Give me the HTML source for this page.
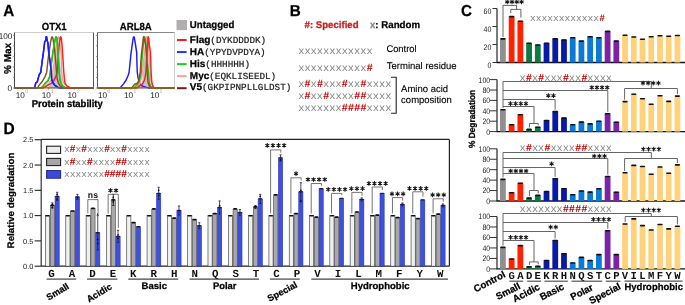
<!DOCTYPE html>
<html><head><meta charset="utf-8"><style>
html,body{margin:0;padding:0;background:#fff;overflow:hidden;}
svg{display:block;will-change:transform;} text{text-rendering:geometricPrecision;}
</style></head><body>
<svg width="685" height="305" viewBox="0 0 685 305">
<rect x="0" y="0" width="685" height="305" fill="#fff"/>
<text x="3.2" y="16" font-family="'Liberation Sans', sans-serif" font-size="16" font-weight="bold" fill="#000" text-anchor="start" textLength="11.0" lengthAdjust="spacingAndGlyphs" stroke="#000" stroke-width="0.25">A</text>
<text x="54.2" y="30.3" font-family="'Liberation Sans', sans-serif" font-size="10.3" font-weight="bold" fill="#000" text-anchor="middle" textLength="25.0" lengthAdjust="spacingAndGlyphs" stroke="#000" stroke-width="0.25">OTX1</text>
<text x="135.8" y="30.4" font-family="'Liberation Sans', sans-serif" font-size="10.3" font-weight="bold" fill="#000" text-anchor="middle" textLength="32.0" lengthAdjust="spacingAndGlyphs" stroke="#000" stroke-width="0.25">ARL8A</text>
<text transform="translate(11.1,58.4) rotate(-90)" font-family="'Liberation Sans', sans-serif" font-size="10" font-weight="bold" text-anchor="middle" stroke="#000" stroke-width="0.25">% Max</text>
<text x="12.3" y="38.5" font-family="'Liberation Sans', sans-serif" font-size="8.2" font-weight="normal" fill="#222" text-anchor="end" >100</text>
<text x="12.1" y="90.8" font-family="'Liberation Sans', sans-serif" font-size="8.2" font-weight="normal" fill="#222" text-anchor="end" >0</text>
<line x1="14.5" y1="32.5" x2="93.5" y2="32.5" stroke="#cccccc" stroke-width="1" />
<line x1="93.5" y1="32.5" x2="93.5" y2="88.0" stroke="#555" stroke-width="1" />
<line x1="14.5" y1="32.5" x2="14.5" y2="88.0" stroke="#444" stroke-width="1" />
<line x1="12.9" y1="88.0" x2="14.5" y2="88.0" stroke="#777" stroke-width="0.8" />
<line x1="13.6" y1="82.73" x2="14.5" y2="82.73" stroke="#aaa" stroke-width="0.6" />
<line x1="12.9" y1="77.46" x2="14.5" y2="77.46" stroke="#777" stroke-width="0.8" />
<line x1="13.6" y1="72.19" x2="14.5" y2="72.19" stroke="#aaa" stroke-width="0.6" />
<line x1="12.9" y1="66.92" x2="14.5" y2="66.92" stroke="#777" stroke-width="0.8" />
<line x1="13.6" y1="61.65" x2="14.5" y2="61.65" stroke="#aaa" stroke-width="0.6" />
<line x1="12.9" y1="56.379999999999995" x2="14.5" y2="56.379999999999995" stroke="#777" stroke-width="0.8" />
<line x1="13.6" y1="51.10999999999999" x2="14.5" y2="51.10999999999999" stroke="#aaa" stroke-width="0.6" />
<line x1="12.9" y1="45.839999999999996" x2="14.5" y2="45.839999999999996" stroke="#777" stroke-width="0.8" />
<line x1="13.6" y1="40.56999999999999" x2="14.5" y2="40.56999999999999" stroke="#aaa" stroke-width="0.6" />
<line x1="12.9" y1="35.3" x2="14.5" y2="35.3" stroke="#777" stroke-width="0.8" />
<line x1="97.5" y1="32.5" x2="174.5" y2="32.5" stroke="#888" stroke-width="1" />
<line x1="174.5" y1="32.5" x2="174.5" y2="88.0" stroke="#cfcfcf" stroke-width="1" />
<line x1="97.5" y1="32.5" x2="97.5" y2="88.0" stroke="#555" stroke-width="1" />
<line x1="95.9" y1="88.0" x2="97.5" y2="88.0" stroke="#777" stroke-width="0.8" />
<line x1="96.6" y1="82.73" x2="97.5" y2="82.73" stroke="#aaa" stroke-width="0.6" />
<line x1="95.9" y1="77.46" x2="97.5" y2="77.46" stroke="#777" stroke-width="0.8" />
<line x1="96.6" y1="72.19" x2="97.5" y2="72.19" stroke="#aaa" stroke-width="0.6" />
<line x1="95.9" y1="66.92" x2="97.5" y2="66.92" stroke="#777" stroke-width="0.8" />
<line x1="96.6" y1="61.65" x2="97.5" y2="61.65" stroke="#aaa" stroke-width="0.6" />
<line x1="95.9" y1="56.379999999999995" x2="97.5" y2="56.379999999999995" stroke="#777" stroke-width="0.8" />
<line x1="96.6" y1="51.10999999999999" x2="97.5" y2="51.10999999999999" stroke="#aaa" stroke-width="0.6" />
<line x1="95.9" y1="45.839999999999996" x2="97.5" y2="45.839999999999996" stroke="#777" stroke-width="0.8" />
<line x1="96.6" y1="40.56999999999999" x2="97.5" y2="40.56999999999999" stroke="#aaa" stroke-width="0.6" />
<line x1="95.9" y1="35.3" x2="97.5" y2="35.3" stroke="#777" stroke-width="0.8" />
<line x1="22.6" y1="88.0" x2="22.6" y2="89.6" stroke="#666" stroke-width="0.8" />
<text x="20.3" y="97.6" font-family="'Liberation Sans', sans-serif" font-size="8.2" font-weight="normal" fill="#222" text-anchor="middle" >10</text>
<text x="26.6" y="92.9" font-family="'Liberation Sans', sans-serif" font-size="5.0" font-weight="normal" fill="#999" text-anchor="middle" >0</text>
<line x1="48.5" y1="88.0" x2="48.5" y2="89.6" stroke="#666" stroke-width="0.8" />
<text x="46.2" y="97.6" font-family="'Liberation Sans', sans-serif" font-size="8.2" font-weight="normal" fill="#222" text-anchor="middle" >10</text>
<text x="52.5" y="92.9" font-family="'Liberation Sans', sans-serif" font-size="5.0" font-weight="normal" fill="#999" text-anchor="middle" >1</text>
<line x1="74.4" y1="88.0" x2="74.4" y2="89.6" stroke="#666" stroke-width="0.8" />
<text x="72.10000000000001" y="97.6" font-family="'Liberation Sans', sans-serif" font-size="8.2" font-weight="normal" fill="#222" text-anchor="middle" >10</text>
<text x="78.4" y="92.9" font-family="'Liberation Sans', sans-serif" font-size="5.0" font-weight="normal" fill="#999" text-anchor="middle" >2</text>
<line x1="104.8" y1="88.0" x2="104.8" y2="89.6" stroke="#666" stroke-width="0.8" />
<text x="102.5" y="97.6" font-family="'Liberation Sans', sans-serif" font-size="8.2" font-weight="normal" fill="#222" text-anchor="middle" >10</text>
<text x="108.8" y="92.9" font-family="'Liberation Sans', sans-serif" font-size="5.0" font-weight="normal" fill="#999" text-anchor="middle" >0</text>
<line x1="130.9" y1="88.0" x2="130.9" y2="89.6" stroke="#666" stroke-width="0.8" />
<text x="128.6" y="97.6" font-family="'Liberation Sans', sans-serif" font-size="8.2" font-weight="normal" fill="#222" text-anchor="middle" >10</text>
<text x="134.9" y="92.9" font-family="'Liberation Sans', sans-serif" font-size="5.0" font-weight="normal" fill="#999" text-anchor="middle" >1</text>
<line x1="157.0" y1="88.0" x2="157.0" y2="89.6" stroke="#666" stroke-width="0.8" />
<text x="154.7" y="97.6" font-family="'Liberation Sans', sans-serif" font-size="8.2" font-weight="normal" fill="#222" text-anchor="middle" >10</text>
<text x="161.0" y="92.9" font-family="'Liberation Sans', sans-serif" font-size="5.0" font-weight="normal" fill="#999" text-anchor="middle" >2</text>
<text x="31.7" y="106.6" font-family="'Liberation Sans', sans-serif" font-size="10" font-weight="bold" fill="#000" text-anchor="start" textLength="71" lengthAdjust="spacingAndGlyphs" stroke="#000" stroke-width="0.3">Protein stability</text>
<polygon points="47.00,88.00 47.00,88.00 50.00,86.03 52.00,83.08 53.50,78.15 54.50,65.35 55.50,50.58 56.50,40.74 57.20,38.77 58.00,40.74 59.00,50.58 60.00,65.35 61.00,78.15 62.50,84.06 65.00,87.02 68.00,88.00 68.00,88.00" fill="#c4c4c4" stroke="#aaa" stroke-width="0.6"/>
<polyline points="14.50,88.00 41.40,88.00 46.70,85.14 50.00,81.99 51.90,78.74 52.60,72.25 54.20,62.40 55.20,52.55 57.00,42.71 58.20,37.78 58.70,36.80 59.30,37.78 60.00,42.71 61.00,52.55 61.50,62.40 61.80,72.25 62.50,80.12 64.50,84.06 68.40,86.52 70.00,88.00 93.50,88.00" fill="none" stroke="#ff9a9a" stroke-width="1.45" stroke-linejoin="round" />
<polyline points="14.50,88.00 43.00,88.00 44.70,87.11 48.00,85.14 51.30,83.27 53.90,80.62 55.90,76.09 57.20,72.25 57.80,62.40 58.50,52.55 59.50,42.71 60.20,37.78 60.70,36.80 61.30,37.78 62.00,44.68 62.50,52.55 63.20,62.40 63.80,72.25 64.40,78.74 65.00,83.27 67.00,86.13 69.70,87.41 71.00,88.00 93.50,88.00" fill="none" stroke="#ff1f1f" stroke-width="1.45" stroke-linejoin="round" />
<polyline points="14.50,88.00 40.80,88.00 42.10,87.11 44.70,83.86 48.00,80.62 49.60,76.78 50.30,72.25 51.50,62.40 52.90,52.55 54.50,42.71 55.50,37.78 56.00,36.80 56.80,37.78 57.50,44.68 57.90,52.55 58.50,62.40 59.20,72.25 59.80,78.74 60.80,83.27 62.50,86.13 65.70,88.00 93.50,88.00" fill="none" stroke="#18c818" stroke-width="1.45" stroke-linejoin="round" />
<polyline points="14.50,88.00 34.20,87.80 34.90,86.52 35.80,82.88 37.20,81.99 38.10,78.74 39.10,74.81 40.80,72.25 42.00,62.40 43.40,52.55 44.70,41.72 45.70,40.34 46.00,37.98 46.20,36.80 46.60,36.80 46.80,37.98 47.10,40.34 47.90,42.71 48.70,52.55 50.20,62.40 51.30,72.25 51.60,78.74 52.60,81.99 54.60,85.14 57.90,87.41 61.80,88.00 93.50,88.00" fill="none" stroke="#1a1aff" stroke-width="1.45" stroke-linejoin="round" />
<polyline points="14.50,88.00 37.50,88.00 39.10,85.14 41.40,82.58 42.70,80.62 44.70,77.46 46.70,72.25 47.70,62.40 49.00,52.55 50.50,42.71 51.50,37.78 52.00,36.80 52.80,37.78 54.00,44.68 54.90,52.55 55.80,62.40 56.50,72.25 57.20,78.74 58.50,83.27 60.50,86.52 64.40,88.00 93.50,88.00" fill="none" stroke="#8f4e18" stroke-width="1.45" stroke-linejoin="round" />
<polyline points="40.80,88.00 42.10,87.11 44.70,83.86 48.00,80.62 49.60,76.78 50.30,72.25 51.50,62.40 52.90,52.55 54.50,42.71 55.50,37.78 56.00,36.80 56.80,37.78 57.50,44.68 57.90,52.55 58.50,62.40 59.20,72.25 59.80,78.74 60.80,83.27 62.50,86.13 65.70,88.00" fill="none" stroke="#18c818" stroke-width="1.45" stroke-linejoin="round" />
<polyline points="34.20,87.80 34.90,86.52 35.80,82.88 37.20,81.99 38.10,78.74 39.10,74.81 40.80,72.25 42.00,62.40 43.40,52.55 44.70,41.72 45.70,40.34 46.00,37.98 46.20,36.80 46.60,36.80 46.80,37.98 47.10,40.34 47.90,42.71 48.70,52.55 50.20,62.40 51.30,72.25 51.60,78.74 52.60,81.99 54.60,85.14 57.90,87.41 61.80,88.00" fill="none" stroke="#1a1aff" stroke-width="1.45" stroke-linejoin="round" />
<polygon points="139.00,88.00 139.00,88.00 141.50,85.05 143.00,79.14 144.30,65.35 145.30,48.62 146.00,39.75 146.60,38.77 147.30,42.71 148.00,55.51 148.60,70.28 149.30,80.12 150.50,86.03 152.50,88.00 152.50,88.00" fill="#c4c4c4" stroke="#aaa" stroke-width="0.6"/>
<polyline points="97.50,88.00 120.30,87.80 123.50,83.86 126.20,80.02 128.10,75.50 129.10,72.25 130.10,62.40 131.10,52.55 132.80,40.74 133.40,37.29 133.90,36.80 134.40,37.78 135.50,44.68 136.70,52.55 136.90,62.40 137.30,72.25 138.00,77.46 140.00,84.55 142.60,86.13 146.50,87.41 149.20,88.00 174.50,88.00" fill="none" stroke="#1a1aff" stroke-width="1.45" stroke-linejoin="round" />
<polyline points="97.50,88.00 135.50,88.00 136.70,87.11 139.30,84.55 141.30,78.74 142.60,72.25 143.50,62.40 144.50,52.55 145.80,42.71 146.50,37.78 146.90,36.80 147.40,37.78 148.20,44.68 149.00,52.55 149.60,62.40 150.20,72.25 150.80,80.12 151.60,84.06 152.60,87.02 154.00,88.00 174.50,88.00" fill="none" stroke="#ff9a9a" stroke-width="1.45" stroke-linejoin="round" />
<polyline points="97.50,88.00 137.00,88.00 138.00,87.11 140.60,85.14 142.60,83.86 144.60,80.02 145.90,72.25 146.50,62.40 147.20,52.55 147.80,42.71 148.00,37.78 148.20,36.80 148.60,37.78 149.30,44.68 150.50,52.55 150.80,62.40 151.10,72.25 151.80,81.99 152.80,85.83 153.80,87.80 155.00,88.00 174.50,88.00" fill="none" stroke="#ff1f1f" stroke-width="1.45" stroke-linejoin="round" />
<polyline points="97.50,88.00 133.50,88.00 134.70,87.11 138.00,83.86 140.00,78.74 141.30,72.25 141.80,62.40 142.60,52.55 143.60,42.71 144.30,37.78 144.60,36.80 145.00,37.78 146.00,44.68 146.60,52.55 147.20,62.40 148.50,72.25 149.20,81.99 150.50,86.52 151.80,87.80 153.00,88.00 174.50,88.00" fill="none" stroke="#18c818" stroke-width="1.45" stroke-linejoin="round" />
<polyline points="97.50,88.00 131.50,88.00 132.10,87.41 134.70,84.26 137.30,83.27 138.70,80.62 139.60,75.50 140.30,72.25 140.80,62.40 141.60,52.55 142.80,42.71 143.30,37.78 143.60,36.80 144.00,37.78 145.50,44.68 146.50,52.55 147.00,62.40 147.20,72.25 147.90,81.99 149.20,85.83 151.10,87.41 154.40,88.00 174.50,88.00" fill="none" stroke="#8f4e18" stroke-width="1.45" stroke-linejoin="round" />
<line x1="15.0" y1="87.9" x2="93.0" y2="87.9" stroke="#9e5c1e" stroke-width="1.4" />
<line x1="98.0" y1="87.9" x2="174.0" y2="87.9" stroke="#9e5c1e" stroke-width="1.4" />
<rect x="176.50" y="20.00" width="10.50" height="10.10" fill="#b1aeae" stroke="none" stroke-width="0" />
<text x="189.8" y="28.3" font-family="'Liberation Sans', sans-serif" font-size="10" font-weight="bold" fill="#000" text-anchor="start" textLength="44.5" lengthAdjust="spacingAndGlyphs" stroke="#000" stroke-width="0.25">Untagged</text>
<line x1="177.0" y1="40.0" x2="186.6" y2="40.0" stroke="#ff1a1a" stroke-width="2" />
<text x="189.8" y="42.65" font-family="'Liberation Sans', sans-serif" font-size="10" font-weight="bold" stroke="#000" stroke-width="0.25">Flag<tspan font-family="'Liberation Mono', monospace" font-weight="normal" font-size="9.3" fill="#1a1a1a" stroke="#1a1a1a" stroke-width="0.2">(DYKDDDDK)</tspan></text>
<line x1="177.0" y1="52.05" x2="186.6" y2="52.05" stroke="#1a3cff" stroke-width="2" />
<text x="189.8" y="54.599999999999994" font-family="'Liberation Sans', sans-serif" font-size="10" font-weight="bold" stroke="#000" stroke-width="0.25">HA<tspan font-family="'Liberation Mono', monospace" font-weight="normal" font-size="9.3" fill="#1a1a1a" stroke="#1a1a1a" stroke-width="0.2">(YPYDVPDYA)</tspan></text>
<line x1="177.0" y1="64.1" x2="186.6" y2="64.1" stroke="#22cc22" stroke-width="2" />
<text x="189.8" y="66.55" font-family="'Liberation Sans', sans-serif" font-size="10" font-weight="bold" stroke="#000" stroke-width="0.25">His<tspan font-family="'Liberation Mono', monospace" font-weight="normal" font-size="9.3" fill="#1a1a1a" stroke="#1a1a1a" stroke-width="0.2">(HHHHHH)</tspan></text>
<line x1="177.0" y1="76.15" x2="186.6" y2="76.15" stroke="#ff9d9d" stroke-width="2" />
<text x="189.8" y="78.5" font-family="'Liberation Sans', sans-serif" font-size="10" font-weight="bold" stroke="#000" stroke-width="0.25">Myc<tspan font-family="'Liberation Mono', monospace" font-weight="normal" font-size="9.3" fill="#1a1a1a" stroke="#1a1a1a" stroke-width="0.2">(EQKLISEEDL)</tspan></text>
<line x1="177.0" y1="88.2" x2="186.6" y2="88.2" stroke="#8b1212" stroke-width="2" />
<text x="189.8" y="90.44999999999999" font-family="'Liberation Sans', sans-serif" font-size="10" font-weight="bold" stroke="#000" stroke-width="0.25">V5<tspan font-family="'Liberation Mono', monospace" font-weight="normal" font-size="9.3" fill="#1a1a1a" stroke="#1a1a1a" stroke-width="0.2">(GKPIPNPLLGLDST)</tspan></text>
<text x="289.8" y="15.6" font-family="'Liberation Sans', sans-serif" font-size="15.8" font-weight="bold" fill="#000" text-anchor="start" textLength="11.0" lengthAdjust="spacingAndGlyphs" stroke="#000" stroke-width="0.25">B</text>
<text x="304.6" y="27.7" font-family="'Liberation Sans', sans-serif" font-size="9.8" font-weight="bold" fill="#cc1a1a" text-anchor="start" textLength="54" lengthAdjust="spacingAndGlyphs" stroke="#cc1a1a" stroke-width="0.25">#: Specified</text>
<text x="369.9" y="27.8" font-family="'Liberation Sans', sans-serif" font-size="9.8" font-weight="bold" textLength="50.2" lengthAdjust="spacingAndGlyphs" stroke="#000" stroke-width="0.25"><tspan fill="#888" stroke="#888">x</tspan>: Random</text>
<text x="301.31 307.51 313.72 319.94 326.14 332.36 338.56 344.77 350.99 357.19 363.40 369.62" y="54.2" font-family="'Liberation Mono', monospace" font-size="10.4" fill="#808080" text-anchor="middle">xxxxxxxxxxxx</text>
<text x="301.31 307.51 313.72 319.94 326.14 332.36 338.56 344.77 350.99 357.19 363.40" y="70.5" font-family="'Liberation Mono', monospace" font-size="10.4" fill="#808080" text-anchor="middle">xxxxxxxxxxx</text>
<text x="369.62" y="70.5" font-family="'Liberation Sans', sans-serif" font-weight="bold" font-size="10.6" fill="#c40000" text-anchor="middle">#</text>
<text x="301.31 313.72 326.14 332.36 338.56 350.99 357.19 369.62 375.82 382.03 388.25" y="87.2" font-family="'Liberation Mono', monospace" font-size="10.4" fill="#808080" text-anchor="middle">xxxxxxxxxxx</text>
<text x="307.51 319.94 344.77 363.40" y="87.2" font-family="'Liberation Sans', sans-serif" font-weight="bold" font-size="10.6" fill="#c40000" text-anchor="middle">####</text>
<text x="301.31 313.72 319.94 332.36 338.56 344.77 350.99 369.62 375.82 382.03 388.25" y="99.2" font-family="'Liberation Mono', monospace" font-size="10.4" fill="#808080" text-anchor="middle">xxxxxxxxxxx</text>
<text x="307.51 326.14 357.19 363.40" y="99.2" font-family="'Liberation Sans', sans-serif" font-weight="bold" font-size="10.6" fill="#c40000" text-anchor="middle">####</text>
<text x="301.31 307.51 313.72 319.94 326.14 332.36 338.56 369.62 375.82 382.03 388.25" y="111.3" font-family="'Liberation Mono', monospace" font-size="10.4" fill="#808080" text-anchor="middle">xxxxxxxxxxx</text>
<text x="344.77 350.99 357.19 363.40" y="111.3" font-family="'Liberation Sans', sans-serif" font-weight="bold" font-size="10.6" fill="#c40000" text-anchor="middle">####</text>
<text x="386.4" y="52.1" font-family="'Liberation Sans', sans-serif" font-size="9.7" font-weight="normal" fill="#000" text-anchor="start" textLength="30.2" lengthAdjust="spacingAndGlyphs" stroke="#000" stroke-width="0.12">Control</text>
<text x="386.7" y="68.9" font-family="'Liberation Sans', sans-serif" font-size="9.7" font-weight="normal" fill="#000" text-anchor="start" textLength="70" lengthAdjust="spacingAndGlyphs" stroke="#000" stroke-width="0.12">Terminal residue</text>
<text x="401.1" y="91.8" font-family="'Liberation Sans', sans-serif" font-size="9.7" font-weight="normal" fill="#000" text-anchor="start" textLength="47" lengthAdjust="spacingAndGlyphs" stroke="#000" stroke-width="0.12">Amino acid</text>
<text x="401.1" y="103.0" font-family="'Liberation Sans', sans-serif" font-size="9.7" font-weight="normal" fill="#000" text-anchor="start" textLength="50.7" lengthAdjust="spacingAndGlyphs" stroke="#000" stroke-width="0.12">composition</text>
<path d="M391,77.2 H396.2 V113.3 H391" fill="none" stroke="#222" stroke-width="1.1" />
<text x="460.9" y="15.8" font-family="'Liberation Sans', sans-serif" font-size="15.8" font-weight="bold" fill="#000" text-anchor="start" textLength="11.0" lengthAdjust="spacingAndGlyphs" stroke="#000" stroke-width="0.25">C</text>
<line x1="497.0" y1="8.5" x2="497.0" y2="62.5" stroke="#222" stroke-width="1.2" />
<line x1="496.5" y1="62.5" x2="685" y2="62.5" stroke="#111" stroke-width="1.4" />
<line x1="492.5" y1="62.5" x2="497.0" y2="62.5" stroke="#333" stroke-width="1" />
<text x="491.3" y="67.60000000000001" font-family="'Liberation Sans', sans-serif" font-size="8.0" font-weight="normal" fill="#222" text-anchor="end" textLength="3.9" lengthAdjust="spacingAndGlyphs">0</text>
<line x1="492.5" y1="44.5" x2="497.0" y2="44.5" stroke="#333" stroke-width="1" />
<text x="491.3" y="49.6" font-family="'Liberation Sans', sans-serif" font-size="8.0" font-weight="normal" fill="#222" text-anchor="end" textLength="7.8" lengthAdjust="spacingAndGlyphs">20</text>
<line x1="492.5" y1="26.5" x2="497.0" y2="26.5" stroke="#333" stroke-width="1" />
<text x="491.3" y="31.599999999999998" font-family="'Liberation Sans', sans-serif" font-size="8.0" font-weight="normal" fill="#222" text-anchor="end" textLength="7.8" lengthAdjust="spacingAndGlyphs">40</text>
<line x1="492.5" y1="8.5" x2="497.0" y2="8.5" stroke="#333" stroke-width="1" />
<text x="491.3" y="13.600000000000001" font-family="'Liberation Sans', sans-serif" font-size="8.0" font-weight="normal" fill="#222" text-anchor="end" textLength="7.8" lengthAdjust="spacingAndGlyphs">60</text>
<rect x="500.00" y="38.50" width="5.80" height="24.00" fill="#8f8f8f" stroke="none" stroke-width="0" />
<rect x="500.30" y="38.10" width="5.20" height="1.60" fill="#111" stroke="none" stroke-width="0" rx="0.8"/>
<rect x="508.73" y="16.20" width="5.80" height="46.30" fill="#ff2200" stroke="none" stroke-width="0" />
<rect x="509.03" y="15.80" width="5.20" height="1.60" fill="#111" stroke="none" stroke-width="0" rx="0.8"/>
<rect x="517.45" y="20.80" width="5.80" height="41.70" fill="#ff2200" stroke="none" stroke-width="0" />
<rect x="517.75" y="20.40" width="5.20" height="1.60" fill="#111" stroke="none" stroke-width="0" rx="0.8"/>
<rect x="526.17" y="42.90" width="5.80" height="19.60" fill="#0e7a40" stroke="none" stroke-width="0" />
<rect x="526.47" y="42.50" width="5.20" height="1.60" fill="#111" stroke="none" stroke-width="0" rx="0.8"/>
<rect x="534.90" y="44.60" width="5.80" height="17.90" fill="#0e7a40" stroke="none" stroke-width="0" />
<rect x="535.20" y="44.20" width="5.20" height="1.60" fill="#111" stroke="none" stroke-width="0" rx="0.8"/>
<rect x="543.62" y="42.90" width="5.80" height="19.60" fill="#0a1aa8" stroke="none" stroke-width="0" />
<rect x="543.92" y="42.50" width="5.20" height="1.60" fill="#111" stroke="none" stroke-width="0" rx="0.8"/>
<rect x="552.35" y="38.50" width="5.80" height="24.00" fill="#0a1aa8" stroke="none" stroke-width="0" />
<rect x="552.65" y="38.10" width="5.20" height="1.60" fill="#111" stroke="none" stroke-width="0" rx="0.8"/>
<rect x="561.08" y="39.60" width="5.80" height="22.90" fill="#0a1aa8" stroke="none" stroke-width="0" />
<rect x="561.38" y="39.20" width="5.20" height="1.60" fill="#111" stroke="none" stroke-width="0" rx="0.8"/>
<rect x="569.80" y="37.40" width="5.80" height="25.10" fill="#0a7ad6" stroke="none" stroke-width="0" />
<rect x="570.10" y="37.00" width="5.20" height="1.60" fill="#111" stroke="none" stroke-width="0" rx="0.8"/>
<rect x="578.52" y="40.70" width="5.80" height="21.80" fill="#0a7ad6" stroke="none" stroke-width="0" />
<rect x="578.82" y="40.30" width="5.20" height="1.60" fill="#111" stroke="none" stroke-width="0" rx="0.8"/>
<rect x="587.25" y="36.30" width="5.80" height="26.20" fill="#0a7ad6" stroke="none" stroke-width="0" />
<rect x="587.55" y="35.90" width="5.20" height="1.60" fill="#111" stroke="none" stroke-width="0" rx="0.8"/>
<rect x="595.98" y="37.30" width="5.80" height="25.20" fill="#0a7ad6" stroke="none" stroke-width="0" />
<rect x="596.27" y="36.90" width="5.20" height="1.60" fill="#111" stroke="none" stroke-width="0" rx="0.8"/>
<rect x="604.70" y="31.00" width="5.80" height="31.50" fill="#7a22a8" stroke="none" stroke-width="0" />
<rect x="605.00" y="30.60" width="5.20" height="1.60" fill="#111" stroke="none" stroke-width="0" rx="0.8"/>
<rect x="613.42" y="40.70" width="5.80" height="21.80" fill="#7a22a8" stroke="none" stroke-width="0" />
<rect x="613.72" y="40.30" width="5.20" height="1.60" fill="#111" stroke="none" stroke-width="0" rx="0.8"/>
<rect x="622.15" y="34.80" width="5.80" height="27.70" fill="#ffd27a" stroke="none" stroke-width="0" />
<rect x="622.45" y="34.40" width="5.20" height="1.60" fill="#111" stroke="none" stroke-width="0" rx="0.8"/>
<rect x="630.88" y="36.60" width="5.80" height="25.90" fill="#ffd27a" stroke="none" stroke-width="0" />
<rect x="631.17" y="36.20" width="5.20" height="1.60" fill="#111" stroke="none" stroke-width="0" rx="0.8"/>
<rect x="639.60" y="38.90" width="5.80" height="23.60" fill="#ffd27a" stroke="none" stroke-width="0" />
<rect x="639.90" y="38.50" width="5.20" height="1.60" fill="#111" stroke="none" stroke-width="0" rx="0.8"/>
<rect x="648.33" y="36.30" width="5.80" height="26.20" fill="#ffd27a" stroke="none" stroke-width="0" />
<rect x="648.62" y="35.90" width="5.20" height="1.60" fill="#111" stroke="none" stroke-width="0" rx="0.8"/>
<rect x="657.05" y="35.40" width="5.80" height="27.10" fill="#ffd27a" stroke="none" stroke-width="0" />
<rect x="657.35" y="35.00" width="5.20" height="1.60" fill="#111" stroke="none" stroke-width="0" rx="0.8"/>
<rect x="665.77" y="35.80" width="5.80" height="26.70" fill="#ffd27a" stroke="none" stroke-width="0" />
<rect x="666.07" y="35.40" width="5.20" height="1.60" fill="#111" stroke="none" stroke-width="0" rx="0.8"/>
<rect x="674.50" y="35.10" width="5.80" height="27.40" fill="#ffd27a" stroke="none" stroke-width="0" />
<rect x="674.80" y="34.70" width="5.20" height="1.60" fill="#111" stroke="none" stroke-width="0" rx="0.8"/>
<line x1="497.0" y1="79.6" x2="497.0" y2="131.6" stroke="#222" stroke-width="1.2" />
<line x1="496.5" y1="131.6" x2="685" y2="131.6" stroke="#111" stroke-width="1.4" />
<line x1="490.0" y1="131.6" x2="497.0" y2="131.6" stroke="#333" stroke-width="1" />
<text x="490.2" y="134.5" font-family="'Liberation Sans', sans-serif" font-size="8.0" font-weight="normal" fill="#222" text-anchor="end" textLength="3.9" lengthAdjust="spacingAndGlyphs">0</text>
<line x1="490.0" y1="121.19999999999999" x2="497.0" y2="121.19999999999999" stroke="#333" stroke-width="1" />
<text x="490.2" y="124.1" font-family="'Liberation Sans', sans-serif" font-size="8.0" font-weight="normal" fill="#222" text-anchor="end" textLength="7.8" lengthAdjust="spacingAndGlyphs">20</text>
<line x1="490.0" y1="110.8" x2="497.0" y2="110.8" stroke="#333" stroke-width="1" />
<text x="490.2" y="113.7" font-family="'Liberation Sans', sans-serif" font-size="8.0" font-weight="normal" fill="#222" text-anchor="end" textLength="7.8" lengthAdjust="spacingAndGlyphs">40</text>
<line x1="490.0" y1="100.39999999999999" x2="497.0" y2="100.39999999999999" stroke="#333" stroke-width="1" />
<text x="490.2" y="103.3" font-family="'Liberation Sans', sans-serif" font-size="8.0" font-weight="normal" fill="#222" text-anchor="end" textLength="7.8" lengthAdjust="spacingAndGlyphs">60</text>
<line x1="490.0" y1="90.0" x2="497.0" y2="90.0" stroke="#333" stroke-width="1" />
<text x="490.2" y="92.9" font-family="'Liberation Sans', sans-serif" font-size="8.0" font-weight="normal" fill="#222" text-anchor="end" textLength="7.8" lengthAdjust="spacingAndGlyphs">80</text>
<line x1="490.0" y1="79.6" x2="497.0" y2="79.6" stroke="#333" stroke-width="1" />
<text x="490.2" y="82.5" font-family="'Liberation Sans', sans-serif" font-size="8.0" font-weight="normal" fill="#222" text-anchor="end" textLength="11.7" lengthAdjust="spacingAndGlyphs">100</text>
<rect x="500.00" y="109.40" width="5.80" height="22.20" fill="#8f8f8f" stroke="none" stroke-width="0" />
<rect x="500.30" y="109.00" width="5.20" height="1.60" fill="#111" stroke="none" stroke-width="0" rx="0.8"/>
<rect x="508.73" y="124.40" width="5.80" height="7.20" fill="#ff2200" stroke="none" stroke-width="0" />
<rect x="509.03" y="124.00" width="5.20" height="1.60" fill="#111" stroke="none" stroke-width="0" rx="0.8"/>
<rect x="517.45" y="114.30" width="5.80" height="17.30" fill="#ff2200" stroke="none" stroke-width="0" />
<rect x="517.75" y="113.90" width="5.20" height="1.60" fill="#111" stroke="none" stroke-width="0" rx="0.8"/>
<rect x="526.17" y="129.00" width="5.80" height="2.60" fill="#0e7a40" stroke="none" stroke-width="0" />
<rect x="526.47" y="128.60" width="5.20" height="1.60" fill="#111" stroke="none" stroke-width="0" rx="0.8"/>
<rect x="534.90" y="126.80" width="5.80" height="4.80" fill="#0e7a40" stroke="none" stroke-width="0" />
<rect x="535.20" y="126.40" width="5.20" height="1.60" fill="#111" stroke="none" stroke-width="0" rx="0.8"/>
<rect x="543.62" y="120.10" width="5.80" height="11.50" fill="#0a1aa8" stroke="none" stroke-width="0" />
<rect x="543.92" y="119.70" width="5.20" height="1.60" fill="#111" stroke="none" stroke-width="0" rx="0.8"/>
<rect x="552.35" y="111.20" width="5.80" height="20.40" fill="#0a1aa8" stroke="none" stroke-width="0" />
<rect x="552.65" y="110.80" width="5.20" height="1.60" fill="#111" stroke="none" stroke-width="0" rx="0.8"/>
<rect x="561.08" y="117.70" width="5.80" height="13.90" fill="#0a1aa8" stroke="none" stroke-width="0" />
<rect x="561.38" y="117.30" width="5.20" height="1.60" fill="#111" stroke="none" stroke-width="0" rx="0.8"/>
<rect x="569.80" y="124.40" width="5.80" height="7.20" fill="#0a7ad6" stroke="none" stroke-width="0" />
<rect x="570.10" y="124.00" width="5.20" height="1.60" fill="#111" stroke="none" stroke-width="0" rx="0.8"/>
<rect x="578.52" y="121.70" width="5.80" height="9.90" fill="#0a7ad6" stroke="none" stroke-width="0" />
<rect x="578.82" y="121.30" width="5.20" height="1.60" fill="#111" stroke="none" stroke-width="0" rx="0.8"/>
<rect x="587.25" y="123.50" width="5.80" height="8.10" fill="#0a7ad6" stroke="none" stroke-width="0" />
<rect x="587.55" y="123.10" width="5.20" height="1.60" fill="#111" stroke="none" stroke-width="0" rx="0.8"/>
<rect x="595.98" y="120.80" width="5.80" height="10.80" fill="#0a7ad6" stroke="none" stroke-width="0" />
<rect x="596.27" y="120.40" width="5.20" height="1.60" fill="#111" stroke="none" stroke-width="0" rx="0.8"/>
<rect x="604.70" y="113.30" width="5.80" height="18.30" fill="#7a22a8" stroke="none" stroke-width="0" />
<rect x="605.00" y="112.90" width="5.20" height="1.60" fill="#111" stroke="none" stroke-width="0" rx="0.8"/>
<rect x="613.42" y="121.80" width="5.80" height="9.80" fill="#7a22a8" stroke="none" stroke-width="0" />
<rect x="613.72" y="121.40" width="5.20" height="1.60" fill="#111" stroke="none" stroke-width="0" rx="0.8"/>
<rect x="622.15" y="101.20" width="5.80" height="30.40" fill="#ffd27a" stroke="none" stroke-width="0" />
<rect x="622.45" y="100.80" width="5.20" height="1.60" fill="#111" stroke="none" stroke-width="0" rx="0.8"/>
<rect x="630.88" y="93.90" width="5.80" height="37.70" fill="#ffd27a" stroke="none" stroke-width="0" />
<rect x="631.17" y="93.50" width="5.20" height="1.60" fill="#111" stroke="none" stroke-width="0" rx="0.8"/>
<rect x="639.60" y="98.30" width="5.80" height="33.30" fill="#ffd27a" stroke="none" stroke-width="0" />
<rect x="639.90" y="97.90" width="5.20" height="1.60" fill="#111" stroke="none" stroke-width="0" rx="0.8"/>
<rect x="648.33" y="103.90" width="5.80" height="27.70" fill="#ffd27a" stroke="none" stroke-width="0" />
<rect x="648.62" y="103.50" width="5.20" height="1.60" fill="#111" stroke="none" stroke-width="0" rx="0.8"/>
<rect x="657.05" y="95.40" width="5.80" height="36.20" fill="#ffd27a" stroke="none" stroke-width="0" />
<rect x="657.35" y="95.00" width="5.20" height="1.60" fill="#111" stroke="none" stroke-width="0" rx="0.8"/>
<rect x="665.77" y="101.00" width="5.80" height="30.60" fill="#ffd27a" stroke="none" stroke-width="0" />
<rect x="666.07" y="100.60" width="5.20" height="1.60" fill="#111" stroke="none" stroke-width="0" rx="0.8"/>
<rect x="674.50" y="95.70" width="5.80" height="35.90" fill="#ffd27a" stroke="none" stroke-width="0" />
<rect x="674.80" y="95.30" width="5.20" height="1.60" fill="#111" stroke="none" stroke-width="0" rx="0.8"/>
<line x1="497.0" y1="148.8" x2="497.0" y2="201.0" stroke="#222" stroke-width="1.2" />
<line x1="496.5" y1="201.0" x2="685" y2="201.0" stroke="#111" stroke-width="1.4" />
<line x1="490.0" y1="201.0" x2="497.0" y2="201.0" stroke="#333" stroke-width="1" />
<text x="490.2" y="203.9" font-family="'Liberation Sans', sans-serif" font-size="8.0" font-weight="normal" fill="#222" text-anchor="end" textLength="3.9" lengthAdjust="spacingAndGlyphs">0</text>
<line x1="490.0" y1="190.56" x2="497.0" y2="190.56" stroke="#333" stroke-width="1" />
<text x="490.2" y="193.46" font-family="'Liberation Sans', sans-serif" font-size="8.0" font-weight="normal" fill="#222" text-anchor="end" textLength="7.8" lengthAdjust="spacingAndGlyphs">20</text>
<line x1="490.0" y1="180.12" x2="497.0" y2="180.12" stroke="#333" stroke-width="1" />
<text x="490.2" y="183.02" font-family="'Liberation Sans', sans-serif" font-size="8.0" font-weight="normal" fill="#222" text-anchor="end" textLength="7.8" lengthAdjust="spacingAndGlyphs">40</text>
<line x1="490.0" y1="169.68" x2="497.0" y2="169.68" stroke="#333" stroke-width="1" />
<text x="490.2" y="172.58" font-family="'Liberation Sans', sans-serif" font-size="8.0" font-weight="normal" fill="#222" text-anchor="end" textLength="7.8" lengthAdjust="spacingAndGlyphs">60</text>
<line x1="490.0" y1="159.24" x2="497.0" y2="159.24" stroke="#333" stroke-width="1" />
<text x="490.2" y="162.14000000000001" font-family="'Liberation Sans', sans-serif" font-size="8.0" font-weight="normal" fill="#222" text-anchor="end" textLength="7.8" lengthAdjust="spacingAndGlyphs">80</text>
<line x1="490.0" y1="148.8" x2="497.0" y2="148.8" stroke="#333" stroke-width="1" />
<text x="490.2" y="151.70000000000002" font-family="'Liberation Sans', sans-serif" font-size="8.0" font-weight="normal" fill="#222" text-anchor="end" textLength="11.7" lengthAdjust="spacingAndGlyphs">100</text>
<rect x="500.00" y="179.00" width="5.80" height="22.00" fill="#8f8f8f" stroke="none" stroke-width="0" />
<rect x="500.30" y="178.60" width="5.20" height="1.60" fill="#111" stroke="none" stroke-width="0" rx="0.8"/>
<rect x="508.73" y="192.30" width="5.80" height="8.70" fill="#ff2200" stroke="none" stroke-width="0" />
<rect x="509.03" y="191.90" width="5.20" height="1.60" fill="#111" stroke="none" stroke-width="0" rx="0.8"/>
<rect x="517.45" y="182.80" width="5.80" height="18.20" fill="#ff2200" stroke="none" stroke-width="0" />
<rect x="517.75" y="182.40" width="5.20" height="1.60" fill="#111" stroke="none" stroke-width="0" rx="0.8"/>
<rect x="526.17" y="197.70" width="5.80" height="3.30" fill="#0e7a40" stroke="none" stroke-width="0" />
<rect x="526.47" y="197.30" width="5.20" height="1.60" fill="#111" stroke="none" stroke-width="0" rx="0.8"/>
<rect x="534.90" y="195.00" width="5.80" height="6.00" fill="#0e7a40" stroke="none" stroke-width="0" />
<rect x="535.20" y="194.60" width="5.20" height="1.60" fill="#111" stroke="none" stroke-width="0" rx="0.8"/>
<rect x="543.62" y="191.20" width="5.80" height="9.80" fill="#0a1aa8" stroke="none" stroke-width="0" />
<rect x="543.92" y="190.80" width="5.20" height="1.60" fill="#111" stroke="none" stroke-width="0" rx="0.8"/>
<rect x="552.35" y="178.30" width="5.80" height="22.70" fill="#0a1aa8" stroke="none" stroke-width="0" />
<rect x="552.65" y="177.90" width="5.20" height="1.60" fill="#111" stroke="none" stroke-width="0" rx="0.8"/>
<rect x="561.08" y="188.30" width="5.80" height="12.70" fill="#0a1aa8" stroke="none" stroke-width="0" />
<rect x="561.38" y="187.90" width="5.20" height="1.60" fill="#111" stroke="none" stroke-width="0" rx="0.8"/>
<rect x="569.80" y="194.40" width="5.80" height="6.60" fill="#0a7ad6" stroke="none" stroke-width="0" />
<rect x="570.10" y="194.00" width="5.20" height="1.60" fill="#111" stroke="none" stroke-width="0" rx="0.8"/>
<rect x="578.52" y="190.60" width="5.80" height="10.40" fill="#0a7ad6" stroke="none" stroke-width="0" />
<rect x="578.82" y="190.20" width="5.20" height="1.60" fill="#111" stroke="none" stroke-width="0" rx="0.8"/>
<rect x="587.25" y="191.70" width="5.80" height="9.30" fill="#0a7ad6" stroke="none" stroke-width="0" />
<rect x="587.55" y="191.30" width="5.20" height="1.60" fill="#111" stroke="none" stroke-width="0" rx="0.8"/>
<rect x="595.98" y="188.40" width="5.80" height="12.60" fill="#0a7ad6" stroke="none" stroke-width="0" />
<rect x="596.27" y="188.00" width="5.20" height="1.60" fill="#111" stroke="none" stroke-width="0" rx="0.8"/>
<rect x="604.70" y="176.10" width="5.80" height="24.90" fill="#7a22a8" stroke="none" stroke-width="0" />
<rect x="605.00" y="175.70" width="5.20" height="1.60" fill="#111" stroke="none" stroke-width="0" rx="0.8"/>
<rect x="613.42" y="191.80" width="5.80" height="9.20" fill="#7a22a8" stroke="none" stroke-width="0" />
<rect x="613.72" y="191.40" width="5.20" height="1.60" fill="#111" stroke="none" stroke-width="0" rx="0.8"/>
<rect x="622.15" y="172.40" width="5.80" height="28.60" fill="#ffd27a" stroke="none" stroke-width="0" />
<rect x="622.45" y="172.00" width="5.20" height="1.60" fill="#111" stroke="none" stroke-width="0" rx="0.8"/>
<rect x="630.88" y="165.00" width="5.80" height="36.00" fill="#ffd27a" stroke="none" stroke-width="0" />
<rect x="631.17" y="164.60" width="5.20" height="1.60" fill="#111" stroke="none" stroke-width="0" rx="0.8"/>
<rect x="639.60" y="166.10" width="5.80" height="34.90" fill="#ffd27a" stroke="none" stroke-width="0" />
<rect x="639.90" y="165.70" width="5.20" height="1.60" fill="#111" stroke="none" stroke-width="0" rx="0.8"/>
<rect x="648.33" y="173.90" width="5.80" height="27.10" fill="#ffd27a" stroke="none" stroke-width="0" />
<rect x="648.62" y="173.50" width="5.20" height="1.60" fill="#111" stroke="none" stroke-width="0" rx="0.8"/>
<rect x="657.05" y="166.60" width="5.80" height="34.40" fill="#ffd27a" stroke="none" stroke-width="0" />
<rect x="657.35" y="166.20" width="5.20" height="1.60" fill="#111" stroke="none" stroke-width="0" rx="0.8"/>
<rect x="665.77" y="172.80" width="5.80" height="28.20" fill="#ffd27a" stroke="none" stroke-width="0" />
<rect x="666.07" y="172.40" width="5.20" height="1.60" fill="#111" stroke="none" stroke-width="0" rx="0.8"/>
<rect x="674.50" y="164.50" width="5.80" height="36.50" fill="#ffd27a" stroke="none" stroke-width="0" />
<rect x="674.80" y="164.10" width="5.20" height="1.60" fill="#111" stroke="none" stroke-width="0" rx="0.8"/>
<line x1="497.0" y1="216.5" x2="497.0" y2="268.9" stroke="#222" stroke-width="1.2" />
<line x1="496.5" y1="268.9" x2="685" y2="268.9" stroke="#111" stroke-width="1.4" />
<line x1="490.0" y1="268.9" x2="497.0" y2="268.9" stroke="#333" stroke-width="1" />
<text x="490.2" y="271.79999999999995" font-family="'Liberation Sans', sans-serif" font-size="8.0" font-weight="normal" fill="#222" text-anchor="end" textLength="3.9" lengthAdjust="spacingAndGlyphs">0</text>
<line x1="490.0" y1="258.41999999999996" x2="497.0" y2="258.41999999999996" stroke="#333" stroke-width="1" />
<text x="490.2" y="261.31999999999994" font-family="'Liberation Sans', sans-serif" font-size="8.0" font-weight="normal" fill="#222" text-anchor="end" textLength="7.8" lengthAdjust="spacingAndGlyphs">20</text>
<line x1="490.0" y1="247.94" x2="497.0" y2="247.94" stroke="#333" stroke-width="1" />
<text x="490.2" y="250.84" font-family="'Liberation Sans', sans-serif" font-size="8.0" font-weight="normal" fill="#222" text-anchor="end" textLength="7.8" lengthAdjust="spacingAndGlyphs">40</text>
<line x1="490.0" y1="237.45999999999998" x2="497.0" y2="237.45999999999998" stroke="#333" stroke-width="1" />
<text x="490.2" y="240.35999999999999" font-family="'Liberation Sans', sans-serif" font-size="8.0" font-weight="normal" fill="#222" text-anchor="end" textLength="7.8" lengthAdjust="spacingAndGlyphs">60</text>
<line x1="490.0" y1="226.98" x2="497.0" y2="226.98" stroke="#333" stroke-width="1" />
<text x="490.2" y="229.88" font-family="'Liberation Sans', sans-serif" font-size="8.0" font-weight="normal" fill="#222" text-anchor="end" textLength="7.8" lengthAdjust="spacingAndGlyphs">80</text>
<line x1="490.0" y1="216.5" x2="497.0" y2="216.5" stroke="#333" stroke-width="1" />
<text x="490.2" y="219.4" font-family="'Liberation Sans', sans-serif" font-size="8.0" font-weight="normal" fill="#222" text-anchor="end" textLength="11.7" lengthAdjust="spacingAndGlyphs">100</text>
<rect x="500.00" y="247.00" width="5.80" height="21.90" fill="#8f8f8f" stroke="none" stroke-width="0" />
<rect x="500.30" y="246.60" width="5.20" height="1.60" fill="#111" stroke="none" stroke-width="0" rx="0.8"/>
<rect x="508.73" y="258.60" width="5.80" height="10.30" fill="#ff2200" stroke="none" stroke-width="0" />
<rect x="509.03" y="258.20" width="5.20" height="1.60" fill="#111" stroke="none" stroke-width="0" rx="0.8"/>
<rect x="517.45" y="245.20" width="5.80" height="23.70" fill="#ff2200" stroke="none" stroke-width="0" />
<rect x="517.75" y="244.80" width="5.20" height="1.60" fill="#111" stroke="none" stroke-width="0" rx="0.8"/>
<rect x="526.17" y="266.40" width="5.80" height="2.50" fill="#0e7a40" stroke="none" stroke-width="0" />
<rect x="526.47" y="266.00" width="5.20" height="1.60" fill="#111" stroke="none" stroke-width="0" rx="0.8"/>
<rect x="534.90" y="265.90" width="5.80" height="3.00" fill="#0e7a40" stroke="none" stroke-width="0" />
<rect x="535.20" y="265.50" width="5.20" height="1.60" fill="#111" stroke="none" stroke-width="0" rx="0.8"/>
<rect x="543.62" y="260.10" width="5.80" height="8.80" fill="#0a1aa8" stroke="none" stroke-width="0" />
<rect x="543.92" y="259.70" width="5.20" height="1.60" fill="#111" stroke="none" stroke-width="0" rx="0.8"/>
<rect x="552.35" y="240.10" width="5.80" height="28.80" fill="#0a1aa8" stroke="none" stroke-width="0" />
<rect x="552.65" y="239.70" width="5.20" height="1.60" fill="#111" stroke="none" stroke-width="0" rx="0.8"/>
<rect x="561.08" y="253.40" width="5.80" height="15.50" fill="#0a1aa8" stroke="none" stroke-width="0" />
<rect x="561.38" y="253.00" width="5.20" height="1.60" fill="#111" stroke="none" stroke-width="0" rx="0.8"/>
<rect x="569.80" y="262.60" width="5.80" height="6.30" fill="#0a7ad6" stroke="none" stroke-width="0" />
<rect x="570.10" y="262.20" width="5.20" height="1.60" fill="#111" stroke="none" stroke-width="0" rx="0.8"/>
<rect x="578.52" y="257.00" width="5.80" height="11.90" fill="#0a7ad6" stroke="none" stroke-width="0" />
<rect x="578.82" y="256.60" width="5.20" height="1.60" fill="#111" stroke="none" stroke-width="0" rx="0.8"/>
<rect x="587.25" y="260.10" width="5.80" height="8.80" fill="#0a7ad6" stroke="none" stroke-width="0" />
<rect x="587.55" y="259.70" width="5.20" height="1.60" fill="#111" stroke="none" stroke-width="0" rx="0.8"/>
<rect x="595.98" y="254.20" width="5.80" height="14.70" fill="#0a7ad6" stroke="none" stroke-width="0" />
<rect x="596.27" y="253.80" width="5.20" height="1.60" fill="#111" stroke="none" stroke-width="0" rx="0.8"/>
<rect x="604.70" y="230.30" width="5.80" height="38.60" fill="#7a22a8" stroke="none" stroke-width="0" />
<rect x="605.00" y="229.90" width="5.20" height="1.60" fill="#111" stroke="none" stroke-width="0" rx="0.8"/>
<rect x="613.42" y="254.20" width="5.80" height="14.70" fill="#7a22a8" stroke="none" stroke-width="0" />
<rect x="613.72" y="253.80" width="5.20" height="1.60" fill="#111" stroke="none" stroke-width="0" rx="0.8"/>
<rect x="622.15" y="223.60" width="5.80" height="45.30" fill="#ffd27a" stroke="none" stroke-width="0" />
<rect x="622.45" y="223.20" width="5.20" height="1.60" fill="#111" stroke="none" stroke-width="0" rx="0.8"/>
<rect x="630.88" y="218.50" width="5.80" height="50.40" fill="#ffd27a" stroke="none" stroke-width="0" />
<rect x="631.17" y="218.10" width="5.20" height="1.60" fill="#111" stroke="none" stroke-width="0" rx="0.8"/>
<rect x="639.60" y="225.20" width="5.80" height="43.70" fill="#ffd27a" stroke="none" stroke-width="0" />
<rect x="639.90" y="224.80" width="5.20" height="1.60" fill="#111" stroke="none" stroke-width="0" rx="0.8"/>
<rect x="648.33" y="229.60" width="5.80" height="39.30" fill="#ffd27a" stroke="none" stroke-width="0" />
<rect x="648.62" y="229.20" width="5.20" height="1.60" fill="#111" stroke="none" stroke-width="0" rx="0.8"/>
<rect x="657.05" y="224.10" width="5.80" height="44.80" fill="#ffd27a" stroke="none" stroke-width="0" />
<rect x="657.35" y="223.70" width="5.20" height="1.60" fill="#111" stroke="none" stroke-width="0" rx="0.8"/>
<rect x="665.77" y="228.50" width="5.80" height="40.40" fill="#ffd27a" stroke="none" stroke-width="0" />
<rect x="666.07" y="228.10" width="5.20" height="1.60" fill="#111" stroke="none" stroke-width="0" rx="0.8"/>
<rect x="674.50" y="225.90" width="5.80" height="43.00" fill="#ffd27a" stroke="none" stroke-width="0" />
<rect x="674.80" y="225.50" width="5.20" height="1.60" fill="#111" stroke="none" stroke-width="0" rx="0.8"/>
<text x="472" y="118.9" font-family="'Liberation Sans', sans-serif" font-size="9" font-weight="bold" fill="#000" text-anchor="middle" transform="rotate(-90 472 118.9) translate(0 3)" textLength="58" lengthAdjust="spacingAndGlyphs" stroke="#000" stroke-width="0.25">% Degradation</text>
<path d="M503,37 V5.4 H516.6 V9.4 M510.8,13.3 V9.4 H520.9 V17.7" fill="none" stroke="#666" stroke-width="1" />
<path d="M507.27,4.25 L507.27,-0.45 M505.24,3.07 L509.31,0.73 M509.31,3.07 L505.24,0.73 M512.02,4.25 L512.02,-0.45 M509.99,3.07 L514.06,0.73 M514.06,3.07 L509.99,0.73 M516.77,4.25 L516.77,-0.45 M514.74,3.07 L518.81,0.73 M518.81,3.07 L514.74,0.73 M521.52,4.25 L521.52,-0.45 M519.49,3.07 L523.56,0.73 M523.56,3.07 L519.49,0.73" fill="none" stroke="#1a1a1a" stroke-width="1.05" stroke-linecap="butt"/>
<circle cx="507.27" cy="1.90" r="0.95" fill="#1a1a1a"/>
<circle cx="512.02" cy="1.90" r="0.95" fill="#1a1a1a"/>
<circle cx="516.77" cy="1.90" r="0.95" fill="#1a1a1a"/>
<circle cx="521.52" cy="1.90" r="0.95" fill="#1a1a1a"/>
<text x="532.88 538.64 544.40 550.16 555.92 561.68 567.44 573.20 578.96 584.72 590.48 596.24" y="20.8" font-family="'Liberation Mono', monospace" font-size="9.6" fill="#808080" text-anchor="middle">xxxxxxxxxxxx</text>
<text x="602.00" y="20.8" font-family="'Liberation Sans', sans-serif" font-weight="bold" font-size="9.4" fill="#c40000" text-anchor="middle">#</text>
<path d="M503,107.9 V81.5" fill="none" stroke="#666" stroke-width="1" />
<path d="M503,81.5 H651.3 V88.5 M624.6,99.7 V88.5 H677.4 V94.2" fill="none" stroke="#666" stroke-width="1" />
<path d="M503,90.5 H607.8 V111.8" fill="none" stroke="#666" stroke-width="1" />
<path d="M503,99.5 H555.1 V109.7" fill="none" stroke="#666" stroke-width="1" />
<path d="M503,106.5 H534 V123.5 M529.4,127.5 V123.5 H538.2 V125.3" fill="none" stroke="#666" stroke-width="1" />
<path d="M642.98,85.45 L642.98,80.75 M640.94,84.27 L645.01,81.92 M645.01,84.27 L640.94,81.92 M648.13,85.45 L648.13,80.75 M646.09,84.27 L650.16,81.92 M650.16,84.27 L646.09,81.92 M653.28,85.45 L653.28,80.75 M651.24,84.27 L655.31,81.92 M655.31,84.27 L651.24,81.92 M658.43,85.45 L658.43,80.75 M656.39,84.27 L660.46,81.92 M660.46,84.27 L656.39,81.92" fill="none" stroke="#1a1a1a" stroke-width="1.05" stroke-linecap="butt"/>
<circle cx="642.98" cy="83.10" r="0.95" fill="#1a1a1a"/>
<circle cx="648.13" cy="83.10" r="0.95" fill="#1a1a1a"/>
<circle cx="653.28" cy="83.10" r="0.95" fill="#1a1a1a"/>
<circle cx="658.43" cy="83.10" r="0.95" fill="#1a1a1a"/>
<path d="M591.78,89.85 L591.78,85.15 M589.74,88.67 L593.81,86.33 M593.81,88.67 L589.74,86.33 M596.93,89.85 L596.93,85.15 M594.89,88.67 L598.96,86.33 M598.96,88.67 L594.89,86.33 M602.08,89.85 L602.08,85.15 M600.04,88.67 L604.11,86.33 M604.11,88.67 L600.04,86.33 M607.23,89.85 L607.23,85.15 M605.19,88.67 L609.26,86.33 M609.26,88.67 L605.19,86.33" fill="none" stroke="#1a1a1a" stroke-width="1.05" stroke-linecap="butt"/>
<circle cx="591.78" cy="87.50" r="0.95" fill="#1a1a1a"/>
<circle cx="596.93" cy="87.50" r="0.95" fill="#1a1a1a"/>
<circle cx="602.08" cy="87.50" r="0.95" fill="#1a1a1a"/>
<circle cx="607.23" cy="87.50" r="0.95" fill="#1a1a1a"/>
<path d="M548.33,98.05 L548.33,93.35 M546.29,96.88 L550.36,94.53 M550.36,96.88 L546.29,94.53 M553.48,98.05 L553.48,93.35 M551.44,96.88 L555.51,94.53 M555.51,96.88 L551.44,94.53" fill="none" stroke="#1a1a1a" stroke-width="1.05" stroke-linecap="butt"/>
<circle cx="548.33" cy="95.70" r="0.95" fill="#1a1a1a"/>
<circle cx="553.48" cy="95.70" r="0.95" fill="#1a1a1a"/>
<path d="M510.48,105.95 L510.48,101.25 M508.44,104.77 L512.51,102.42 M512.51,104.77 L508.44,102.42 M515.62,105.95 L515.62,101.25 M513.59,104.77 L517.66,102.42 M517.66,104.77 L513.59,102.42 M520.77,105.95 L520.77,101.25 M518.74,104.77 L522.81,102.42 M522.81,104.77 L518.74,102.42 M525.93,105.95 L525.93,101.25 M523.89,104.77 L527.96,102.42 M527.96,104.77 L523.89,102.42" fill="none" stroke="#1a1a1a" stroke-width="1.05" stroke-linecap="butt"/>
<circle cx="510.48" cy="103.60" r="0.95" fill="#1a1a1a"/>
<circle cx="515.62" cy="103.60" r="0.95" fill="#1a1a1a"/>
<circle cx="520.77" cy="103.60" r="0.95" fill="#1a1a1a"/>
<circle cx="525.93" cy="103.60" r="0.95" fill="#1a1a1a"/>
<text x="522.68 535.00 547.32 553.48 559.64 571.96 578.12 590.44 596.60 602.76 608.92" y="81.0" font-family="'Liberation Mono', monospace" font-size="10.3" fill="#808080" text-anchor="middle">xxxxxxxxxxx</text>
<text x="528.84 541.16 565.80 584.28" y="81.0" font-family="'Liberation Sans', sans-serif" font-weight="bold" font-size="10.4" fill="#c40000" text-anchor="middle">####</text>
<path d="M503,177.5 V152.5" fill="none" stroke="#666" stroke-width="1" />
<path d="M503,152.5 H651.3 V158.5 M624.6,170.9 V158.5 H677.4 V163.0" fill="none" stroke="#666" stroke-width="1" />
<path d="M503,158.5 H607.8 V174.6" fill="none" stroke="#666" stroke-width="1" />
<path d="M503,167.5 H555.1 V176.8" fill="none" stroke="#666" stroke-width="1" />
<path d="M503,173.5 H534 V190.5 M529.4,196.2 V190.5 H538.2 V193.5" fill="none" stroke="#666" stroke-width="1" />
<path d="M643.38,151.55 L643.38,146.85 M641.34,150.38 L645.41,148.02 M645.41,150.38 L641.34,148.02 M648.53,151.55 L648.53,146.85 M646.49,150.38 L650.56,148.02 M650.56,150.38 L646.49,148.02 M653.68,151.55 L653.68,146.85 M651.64,150.38 L655.71,148.02 M655.71,150.38 L651.64,148.02 M658.83,151.55 L658.83,146.85 M656.79,150.38 L660.86,148.02 M660.86,150.38 L656.79,148.02" fill="none" stroke="#1a1a1a" stroke-width="1.05" stroke-linecap="butt"/>
<circle cx="643.38" cy="149.20" r="0.95" fill="#1a1a1a"/>
<circle cx="648.53" cy="149.20" r="0.95" fill="#1a1a1a"/>
<circle cx="653.68" cy="149.20" r="0.95" fill="#1a1a1a"/>
<circle cx="658.83" cy="149.20" r="0.95" fill="#1a1a1a"/>
<path d="M594.25,158.45 L594.25,153.75 M592.21,157.28 L596.29,154.92 M596.29,157.28 L592.21,154.92 M599.40,158.45 L599.40,153.75 M597.36,157.28 L601.44,154.92 M601.44,157.28 L597.36,154.92 M604.55,158.45 L604.55,153.75 M602.51,157.28 L606.59,154.92 M606.59,157.28 L602.51,154.92" fill="none" stroke="#1a1a1a" stroke-width="1.05" stroke-linecap="butt"/>
<circle cx="594.25" cy="156.10" r="0.95" fill="#1a1a1a"/>
<circle cx="599.40" cy="156.10" r="0.95" fill="#1a1a1a"/>
<circle cx="604.55" cy="156.10" r="0.95" fill="#1a1a1a"/>
<path d="M551.60,166.15 L551.60,161.45 M549.56,164.98 L553.64,162.62 M553.64,164.98 L549.56,162.62" fill="none" stroke="#1a1a1a" stroke-width="1.05" stroke-linecap="butt"/>
<circle cx="551.60" cy="163.80" r="0.95" fill="#1a1a1a"/>
<path d="M510.67,173.35 L510.67,168.65 M508.64,172.18 L512.71,169.82 M512.71,172.18 L508.64,169.82 M515.82,173.35 L515.82,168.65 M513.79,172.18 L517.86,169.82 M517.86,172.18 L513.79,169.82 M520.97,173.35 L520.97,168.65 M518.94,172.18 L523.01,169.82 M523.01,172.18 L518.94,169.82 M526.12,173.35 L526.12,168.65 M524.09,172.18 L528.16,169.82 M528.16,172.18 L524.09,169.82" fill="none" stroke="#1a1a1a" stroke-width="1.05" stroke-linecap="butt"/>
<circle cx="510.67" cy="171.00" r="0.95" fill="#1a1a1a"/>
<circle cx="515.82" cy="171.00" r="0.95" fill="#1a1a1a"/>
<circle cx="520.97" cy="171.00" r="0.95" fill="#1a1a1a"/>
<circle cx="526.12" cy="171.00" r="0.95" fill="#1a1a1a"/>
<text x="522.68 535.00 541.16 553.48 559.64 565.80 571.96 590.44 596.60 602.76 608.92" y="150.6" font-family="'Liberation Mono', monospace" font-size="10.3" fill="#808080" text-anchor="middle">xxxxxxxxxxx</text>
<text x="528.84 547.32 578.12 584.28" y="150.6" font-family="'Liberation Sans', sans-serif" font-weight="bold" font-size="10.4" fill="#c40000" text-anchor="middle">####</text>
<path d="M503,245.5 V213.5" fill="none" stroke="#666" stroke-width="1" />
<path d="M503,213.5 H651.3 V216.5 M625.2,222.1 V216.5 H677.4 V224.4" fill="none" stroke="#666" stroke-width="1" />
<path d="M503,222.5 H607.8 V228.8" fill="none" stroke="#666" stroke-width="1" />
<path d="M503,231.5 H555.1 V238.6" fill="none" stroke="#666" stroke-width="1" />
<path d="M503,240.5 H534 V261.9 M529.4,264.9 V261.9 H538.2 V264.4" fill="none" stroke="#666" stroke-width="1" />
<path d="M643.38,212.55 L643.38,207.85 M641.34,211.38 L645.41,209.02 M645.41,211.38 L641.34,209.02 M648.53,212.55 L648.53,207.85 M646.49,211.38 L650.56,209.02 M650.56,211.38 L646.49,209.02 M653.68,212.55 L653.68,207.85 M651.64,211.38 L655.71,209.02 M655.71,211.38 L651.64,209.02 M658.83,212.55 L658.83,207.85 M656.79,211.38 L660.86,209.02 M660.86,211.38 L656.79,209.02" fill="none" stroke="#1a1a1a" stroke-width="1.05" stroke-linecap="butt"/>
<circle cx="643.38" cy="210.20" r="0.95" fill="#1a1a1a"/>
<circle cx="648.53" cy="210.20" r="0.95" fill="#1a1a1a"/>
<circle cx="653.68" cy="210.20" r="0.95" fill="#1a1a1a"/>
<circle cx="658.83" cy="210.20" r="0.95" fill="#1a1a1a"/>
<path d="M593.38,221.75 L593.38,217.05 M591.34,220.58 L595.41,218.22 M595.41,220.58 L591.34,218.22 M598.53,221.75 L598.53,217.05 M596.49,220.58 L600.56,218.22 M600.56,220.58 L596.49,218.22 M603.68,221.75 L603.68,217.05 M601.64,220.58 L605.71,218.22 M605.71,220.58 L601.64,218.22 M608.83,221.75 L608.83,217.05 M606.79,220.58 L610.86,218.22 M610.86,220.58 L606.79,218.22" fill="none" stroke="#1a1a1a" stroke-width="1.05" stroke-linecap="butt"/>
<circle cx="593.38" cy="219.40" r="0.95" fill="#1a1a1a"/>
<circle cx="598.53" cy="219.40" r="0.95" fill="#1a1a1a"/>
<circle cx="603.68" cy="219.40" r="0.95" fill="#1a1a1a"/>
<circle cx="608.83" cy="219.40" r="0.95" fill="#1a1a1a"/>
<path d="M550.63,229.45 L550.63,224.75 M548.59,228.28 L552.66,225.92 M552.66,228.28 L548.59,225.92 M555.78,229.45 L555.78,224.75 M553.74,228.28 L557.81,225.92 M557.81,228.28 L553.74,225.92" fill="none" stroke="#1a1a1a" stroke-width="1.05" stroke-linecap="butt"/>
<circle cx="550.63" cy="227.10" r="0.95" fill="#1a1a1a"/>
<circle cx="555.78" cy="227.10" r="0.95" fill="#1a1a1a"/>
<path d="M510.57,239.75 L510.57,235.05 M508.54,238.58 L512.61,236.22 M512.61,238.58 L508.54,236.22 M515.72,239.75 L515.72,235.05 M513.69,238.58 L517.76,236.22 M517.76,238.58 L513.69,236.22 M520.87,239.75 L520.87,235.05 M518.84,238.58 L522.91,236.22 M522.91,238.58 L518.84,236.22 M526.02,239.75 L526.02,235.05 M523.99,238.58 L528.06,236.22 M528.06,238.58 L523.99,236.22" fill="none" stroke="#1a1a1a" stroke-width="1.05" stroke-linecap="butt"/>
<circle cx="510.57" cy="237.40" r="0.95" fill="#1a1a1a"/>
<circle cx="515.72" cy="237.40" r="0.95" fill="#1a1a1a"/>
<circle cx="520.87" cy="237.40" r="0.95" fill="#1a1a1a"/>
<circle cx="526.02" cy="237.40" r="0.95" fill="#1a1a1a"/>
<text x="522.68 528.84 535.00 541.16 547.32 553.48 559.64 590.44 596.60 602.76 608.92" y="212.4" font-family="'Liberation Mono', monospace" font-size="10.3" fill="#808080" text-anchor="middle">xxxxxxxxxxx</text>
<text x="565.80 571.96 578.12 584.28" y="212.4" font-family="'Liberation Sans', sans-serif" font-weight="bold" font-size="10.4" fill="#c40000" text-anchor="middle">####</text>
<text x="511.625" y="278.5" font-family="'Liberation Mono', monospace" font-size="10.6" font-weight="bold" fill="#111" text-anchor="middle" >G</text>
<text x="520.35" y="278.5" font-family="'Liberation Mono', monospace" font-size="10.6" font-weight="bold" fill="#111" text-anchor="middle" >A</text>
<text x="529.0749999999999" y="278.5" font-family="'Liberation Mono', monospace" font-size="10.6" font-weight="bold" fill="#111" text-anchor="middle" >D</text>
<text x="537.8" y="278.5" font-family="'Liberation Mono', monospace" font-size="10.6" font-weight="bold" fill="#111" text-anchor="middle" >E</text>
<text x="546.525" y="278.5" font-family="'Liberation Mono', monospace" font-size="10.6" font-weight="bold" fill="#111" text-anchor="middle" >K</text>
<text x="555.25" y="278.5" font-family="'Liberation Mono', monospace" font-size="10.6" font-weight="bold" fill="#111" text-anchor="middle" >R</text>
<text x="563.975" y="278.5" font-family="'Liberation Mono', monospace" font-size="10.6" font-weight="bold" fill="#111" text-anchor="middle" >H</text>
<text x="572.6999999999999" y="278.5" font-family="'Liberation Mono', monospace" font-size="10.6" font-weight="bold" fill="#111" text-anchor="middle" >N</text>
<text x="581.425" y="278.5" font-family="'Liberation Mono', monospace" font-size="10.6" font-weight="bold" fill="#111" text-anchor="middle" >Q</text>
<text x="590.15" y="278.5" font-family="'Liberation Mono', monospace" font-size="10.6" font-weight="bold" fill="#111" text-anchor="middle" >S</text>
<text x="598.875" y="278.5" font-family="'Liberation Mono', monospace" font-size="10.6" font-weight="bold" fill="#111" text-anchor="middle" >T</text>
<text x="607.6" y="278.5" font-family="'Liberation Mono', monospace" font-size="10.6" font-weight="bold" fill="#111" text-anchor="middle" >C</text>
<text x="616.3249999999999" y="278.5" font-family="'Liberation Mono', monospace" font-size="10.6" font-weight="bold" fill="#111" text-anchor="middle" >P</text>
<text x="625.05" y="278.5" font-family="'Liberation Mono', monospace" font-size="10.6" font-weight="bold" fill="#111" text-anchor="middle" >V</text>
<text x="633.775" y="278.5" font-family="'Liberation Mono', monospace" font-size="10.6" font-weight="bold" fill="#111" text-anchor="middle" >I</text>
<text x="642.5" y="278.5" font-family="'Liberation Mono', monospace" font-size="10.6" font-weight="bold" fill="#111" text-anchor="middle" >L</text>
<text x="651.225" y="278.5" font-family="'Liberation Mono', monospace" font-size="10.6" font-weight="bold" fill="#111" text-anchor="middle" >M</text>
<text x="659.9499999999999" y="278.5" font-family="'Liberation Mono', monospace" font-size="10.6" font-weight="bold" fill="#111" text-anchor="middle" >F</text>
<text x="668.675" y="278.5" font-family="'Liberation Mono', monospace" font-size="10.6" font-weight="bold" fill="#111" text-anchor="middle" >Y</text>
<text x="677.4" y="278.5" font-family="'Liberation Mono', monospace" font-size="10.6" font-weight="bold" fill="#111" text-anchor="middle" >W</text>
<line x1="509.3" y1="281.2" x2="523.1" y2="281.2" stroke="#555" stroke-width="1.2" />
<line x1="527.2" y1="281.2" x2="541" y2="281.2" stroke="#555" stroke-width="1.2" />
<line x1="544.5" y1="281.2" x2="567.8" y2="281.2" stroke="#555" stroke-width="1.2" />
<line x1="571.5" y1="281.2" x2="602.2" y2="281.2" stroke="#555" stroke-width="1.2" />
<line x1="605.8" y1="281.2" x2="620.4" y2="281.2" stroke="#555" stroke-width="1.2" />
<line x1="624.5" y1="281.2" x2="682.6" y2="281.2" stroke="#555" stroke-width="1.2" />
<text transform="translate(475.7,292.4) rotate(-27.5)" font-family="'Liberation Sans', sans-serif" font-size="9.7" font-weight="bold" stroke="#000" stroke-width="0.25">Control</text>
<text transform="translate(498.1,300.1) rotate(-27.5)" font-family="'Liberation Sans', sans-serif" font-size="9.7" font-weight="bold" stroke="#000" stroke-width="0.25">Small</text>
<text transform="translate(514.8,302.5) rotate(-27.5)" font-family="'Liberation Sans', sans-serif" font-size="9.7" font-weight="bold" stroke="#000" stroke-width="0.25">Acidic</text>
<text transform="translate(541.9,300.6) rotate(-27.5)" font-family="'Liberation Sans', sans-serif" font-size="9.7" font-weight="bold" stroke="#000" stroke-width="0.25">Basic</text>
<text transform="translate(572.4,300.6) rotate(-27.5)" font-family="'Liberation Sans', sans-serif" font-size="9.7" font-weight="bold" stroke="#000" stroke-width="0.25">Polar</text>
<text transform="translate(591.2,304.2) rotate(-27.5)" font-family="'Liberation Sans', sans-serif" font-size="9.7" font-weight="bold" stroke="#000" stroke-width="0.25">Special</text>
<text x="624.5" y="289.7" font-family="'Liberation Sans', sans-serif" font-size="9.6" font-weight="bold" fill="#000" text-anchor="start" textLength="58.5" lengthAdjust="spacingAndGlyphs" stroke="#000" stroke-width="0.25">Hydrophobic</text>
<text x="3.6" y="134" font-family="'Liberation Sans', sans-serif" font-size="16.3" font-weight="bold" fill="#000" text-anchor="start" textLength="11.2" lengthAdjust="spacingAndGlyphs" stroke="#000" stroke-width="0.25">D</text>
<line x1="41.2" y1="139.4" x2="449.4" y2="139.4" stroke="#222" stroke-width="1.2" />
<line x1="449.4" y1="139.4" x2="449.4" y2="266.2" stroke="#222" stroke-width="1.2" />
<line x1="41.2" y1="139.4" x2="41.2" y2="266.2" stroke="#333" stroke-width="1.2" />
<line x1="41.2" y1="266.2" x2="449.4" y2="266.2" stroke="#222" stroke-width="1.3" />
<line x1="34.7" y1="266.2" x2="41.2" y2="266.2" stroke="#222" stroke-width="1.1" />
<text x="33.3" y="268.9" font-family="'Liberation Sans', sans-serif" font-size="7.4" font-weight="normal" fill="#222" text-anchor="end" >0.0</text>
<line x1="34.7" y1="240.89999999999998" x2="41.2" y2="240.89999999999998" stroke="#222" stroke-width="1.1" />
<text x="33.3" y="243.59999999999997" font-family="'Liberation Sans', sans-serif" font-size="7.4" font-weight="normal" fill="#222" text-anchor="end" >0.5</text>
<line x1="34.7" y1="215.6" x2="41.2" y2="215.6" stroke="#222" stroke-width="1.1" />
<text x="33.3" y="218.29999999999998" font-family="'Liberation Sans', sans-serif" font-size="7.4" font-weight="normal" fill="#222" text-anchor="end" >1.0</text>
<line x1="34.7" y1="190.29999999999998" x2="41.2" y2="190.29999999999998" stroke="#222" stroke-width="1.1" />
<text x="33.3" y="192.99999999999997" font-family="'Liberation Sans', sans-serif" font-size="7.4" font-weight="normal" fill="#222" text-anchor="end" >1.5</text>
<line x1="34.7" y1="165.0" x2="41.2" y2="165.0" stroke="#222" stroke-width="1.1" />
<text x="33.3" y="167.7" font-family="'Liberation Sans', sans-serif" font-size="7.4" font-weight="normal" fill="#222" text-anchor="end" >2.0</text>
<line x1="34.7" y1="139.7" x2="41.2" y2="139.7" stroke="#222" stroke-width="1.1" />
<text x="33.3" y="142.39999999999998" font-family="'Liberation Sans', sans-serif" font-size="7.4" font-weight="normal" fill="#222" text-anchor="end" >2.5</text>
<text transform="translate(13.6,200.5) rotate(-90)" font-family="'Liberation Sans', sans-serif" font-size="9.5" font-weight="bold" text-anchor="middle" textLength="95.8" lengthAdjust="spacingAndGlyphs" stroke="#000" stroke-width="0.25">Relative degradation</text>
<rect x="46.60" y="146.20" width="14.00" height="7.20" fill="#ececec" stroke="#222" stroke-width="1.1" />
<rect x="46.60" y="158.40" width="14.00" height="7.20" fill="#a6a6a6" stroke="#222" stroke-width="1.1" />
<rect x="46.60" y="170.60" width="14.00" height="7.60" fill="#4048d6" stroke="#2030a0" stroke-width="1.1" />
<text x="66.86 78.33 89.78 95.52 101.25 112.71 118.44 129.90 135.62 141.36 147.09" y="152.4" font-family="'Liberation Mono', monospace" font-size="9.5" fill="#808080" text-anchor="middle">xxxxxxxxxxx</text>
<text x="72.59 84.06 106.97 124.17" y="152.4" font-family="'Liberation Sans', sans-serif" font-weight="bold" font-size="10.2" fill="#c40000" text-anchor="middle">####</text>
<text x="66.86 78.33 84.06 95.52 101.25 106.97 112.71 129.90 135.62 141.36 147.09" y="164.5" font-family="'Liberation Mono', monospace" font-size="9.5" fill="#808080" text-anchor="middle">xxxxxxxxxxx</text>
<text x="72.59 89.78 118.44 124.17" y="164.5" font-family="'Liberation Sans', sans-serif" font-weight="bold" font-size="10.2" fill="#c40000" text-anchor="middle">####</text>
<text x="66.86 72.59 78.33 84.06 89.78 95.52 101.25 129.90 135.62 141.36 147.09" y="176.5" font-family="'Liberation Mono', monospace" font-size="9.5" fill="#808080" text-anchor="middle">xxxxxxxxxxx</text>
<text x="106.97 112.71 118.44 124.17" y="176.5" font-family="'Liberation Sans', sans-serif" font-weight="bold" font-size="10.2" fill="#c40000" text-anchor="middle">####</text>
<rect x="45.50" y="215.60" width="4.17" height="50.60" fill="#f0f0f0" stroke="#333" stroke-width="0.6" />
<rect x="45.70" y="214.90" width="3.77" height="1.50" fill="#111" stroke="none" stroke-width="0" rx="0.5"/>
<rect x="50.27" y="205.48" width="4.17" height="60.72" fill="#a8a8a8" stroke="#444" stroke-width="0.6" />
<rect x="50.47" y="204.58" width="3.77" height="1.70" fill="#111" stroke="none" stroke-width="0" rx="0.7"/>
<line x1="52.355000000000004" y1="205.48" x2="52.355000000000004" y2="202.95" stroke="#111" stroke-width="0.8" />
<line x1="51.255" y1="202.95" x2="53.455000000000005" y2="202.95" stroke="#111" stroke-width="0.8" />
<line x1="52.355000000000004" y1="205.48" x2="52.355000000000004" y2="208.01" stroke="#111" stroke-width="0.8" />
<line x1="51.255" y1="208.01" x2="53.455000000000005" y2="208.01" stroke="#111" stroke-width="0.8" />
<rect x="55.04" y="196.37" width="4.17" height="69.83" fill="#4050dc" stroke="#2333b8" stroke-width="0.6" />
<rect x="55.24" y="195.67" width="3.77" height="1.40" fill="#1a1a50" stroke="none" stroke-width="0" rx="0.5"/>
<line x1="57.125" y1="196.37199999999999" x2="57.125" y2="192.32399999999998" stroke="#1a1a50" stroke-width="0.8" />
<line x1="56.025" y1="192.32399999999998" x2="58.225" y2="192.32399999999998" stroke="#1a1a50" stroke-width="0.8" />
<line x1="57.125" y1="196.37199999999999" x2="57.125" y2="200.42000000000002" stroke="#1a1a50" stroke-width="0.8" />
<line x1="56.025" y1="200.42000000000002" x2="58.225" y2="200.42000000000002" stroke="#1a1a50" stroke-width="0.8" />
<circle cx="52.36" cy="207.50" r="0.85" fill="#111"/>
<circle cx="52.36" cy="204.47" r="0.85" fill="#111"/>
<circle cx="57.12" cy="198.90" r="0.85" fill="#111"/>
<circle cx="57.12" cy="194.35" r="0.85" fill="#111"/>
<text x="51.5" y="276.9" font-family="'Liberation Mono', monospace" font-size="10.8" font-weight="bold" fill="#111" text-anchor="middle" >G</text>
<rect x="65.81" y="215.60" width="4.17" height="50.60" fill="#f0f0f0" stroke="#333" stroke-width="0.6" />
<rect x="66.01" y="214.90" width="3.77" height="1.50" fill="#111" stroke="none" stroke-width="0" rx="0.5"/>
<rect x="70.58" y="211.05" width="4.17" height="55.15" fill="#a8a8a8" stroke="#444" stroke-width="0.6" />
<rect x="70.78" y="210.15" width="3.77" height="1.70" fill="#111" stroke="none" stroke-width="0" rx="0.7"/>
<rect x="75.35" y="196.88" width="4.17" height="69.32" fill="#4050dc" stroke="#2333b8" stroke-width="0.6" />
<rect x="75.55" y="196.18" width="3.77" height="1.40" fill="#1a1a50" stroke="none" stroke-width="0" rx="0.5"/>
<line x1="77.435" y1="196.878" x2="77.435" y2="194.34799999999998" stroke="#1a1a50" stroke-width="0.8" />
<line x1="76.33500000000001" y1="194.34799999999998" x2="78.535" y2="194.34799999999998" stroke="#1a1a50" stroke-width="0.8" />
<line x1="77.435" y1="196.878" x2="77.435" y2="199.40799999999996" stroke="#1a1a50" stroke-width="0.8" />
<line x1="76.33500000000001" y1="199.40799999999996" x2="78.535" y2="199.40799999999996" stroke="#1a1a50" stroke-width="0.8" />
<circle cx="77.44" cy="197.89" r="0.85" fill="#111"/>
<text x="71.96000000000001" y="276.9" font-family="'Liberation Mono', monospace" font-size="10.8" font-weight="bold" fill="#111" text-anchor="middle" >A</text>
<rect x="86.12" y="215.60" width="4.17" height="50.60" fill="#f0f0f0" stroke="#333" stroke-width="0.6" />
<rect x="86.32" y="214.90" width="3.77" height="1.50" fill="#111" stroke="none" stroke-width="0" rx="0.5"/>
<rect x="90.89" y="208.52" width="4.17" height="57.68" fill="#a8a8a8" stroke="#444" stroke-width="0.6" />
<rect x="91.09" y="207.62" width="3.77" height="1.70" fill="#111" stroke="none" stroke-width="0" rx="0.7"/>
<rect x="95.66" y="232.80" width="4.17" height="33.40" fill="#4050dc" stroke="#2333b8" stroke-width="0.6" />
<rect x="95.86" y="232.10" width="3.77" height="1.40" fill="#1a1a50" stroke="none" stroke-width="0" rx="0.5"/>
<line x1="97.74499999999999" y1="232.80399999999997" x2="97.74499999999999" y2="215.6" stroke="#1a1a50" stroke-width="0.8" />
<line x1="96.645" y1="215.6" x2="98.84499999999998" y2="215.6" stroke="#1a1a50" stroke-width="0.8" />
<line x1="97.74499999999999" y1="232.80399999999997" x2="97.74499999999999" y2="250.00799999999998" stroke="#1a1a50" stroke-width="0.8" />
<line x1="96.645" y1="250.00799999999998" x2="98.84499999999998" y2="250.00799999999998" stroke="#1a1a50" stroke-width="0.8" />
<circle cx="97.74" cy="243.43" r="0.85" fill="#111"/>
<circle cx="97.74" cy="239.38" r="0.85" fill="#111"/>
<circle cx="97.74" cy="214.08" r="0.85" fill="#111"/>
<text x="92.42" y="276.9" font-family="'Liberation Mono', monospace" font-size="10.8" font-weight="bold" fill="#111" text-anchor="middle" >D</text>
<rect x="106.43" y="215.60" width="4.17" height="50.60" fill="#f0f0f0" stroke="#333" stroke-width="0.6" />
<rect x="106.63" y="214.90" width="3.77" height="1.50" fill="#111" stroke="none" stroke-width="0" rx="0.5"/>
<rect x="111.20" y="199.91" width="4.17" height="66.29" fill="#a8a8a8" stroke="#444" stroke-width="0.6" />
<rect x="111.40" y="199.01" width="3.77" height="1.70" fill="#111" stroke="none" stroke-width="0" rx="0.7"/>
<line x1="113.285" y1="199.914" x2="113.285" y2="194.34799999999998" stroke="#111" stroke-width="0.8" />
<line x1="112.185" y1="194.34799999999998" x2="114.38499999999999" y2="194.34799999999998" stroke="#111" stroke-width="0.8" />
<line x1="113.285" y1="199.914" x2="113.285" y2="205.47999999999996" stroke="#111" stroke-width="0.8" />
<line x1="112.185" y1="205.47999999999996" x2="114.38499999999999" y2="205.47999999999996" stroke="#111" stroke-width="0.8" />
<rect x="115.97" y="236.35" width="4.17" height="29.85" fill="#4050dc" stroke="#2333b8" stroke-width="0.6" />
<rect x="116.17" y="235.65" width="3.77" height="1.40" fill="#1a1a50" stroke="none" stroke-width="0" rx="0.5"/>
<line x1="118.05499999999999" y1="236.346" x2="118.05499999999999" y2="230.274" stroke="#1a1a50" stroke-width="0.8" />
<line x1="116.955" y1="230.274" x2="119.15499999999999" y2="230.274" stroke="#1a1a50" stroke-width="0.8" />
<line x1="118.05499999999999" y1="236.346" x2="118.05499999999999" y2="242.41799999999998" stroke="#1a1a50" stroke-width="0.8" />
<line x1="116.955" y1="242.41799999999998" x2="119.15499999999999" y2="242.41799999999998" stroke="#1a1a50" stroke-width="0.8" />
<circle cx="113.28" cy="201.94" r="0.85" fill="#111"/>
<circle cx="113.28" cy="197.38" r="0.85" fill="#111"/>
<circle cx="118.05" cy="238.37" r="0.85" fill="#111"/>
<circle cx="118.05" cy="234.83" r="0.85" fill="#111"/>
<text x="112.88" y="276.9" font-family="'Liberation Mono', monospace" font-size="10.8" font-weight="bold" fill="#111" text-anchor="middle" >E</text>
<rect x="126.74" y="215.60" width="4.17" height="50.60" fill="#f0f0f0" stroke="#333" stroke-width="0.6" />
<rect x="126.94" y="214.90" width="3.77" height="1.50" fill="#111" stroke="none" stroke-width="0" rx="0.5"/>
<rect x="131.51" y="222.68" width="4.17" height="43.52" fill="#a8a8a8" stroke="#444" stroke-width="0.6" />
<rect x="131.71" y="221.78" width="3.77" height="1.70" fill="#111" stroke="none" stroke-width="0" rx="0.7"/>
<rect x="136.28" y="226.73" width="4.17" height="39.47" fill="#4050dc" stroke="#2333b8" stroke-width="0.6" />
<rect x="136.48" y="226.03" width="3.77" height="1.40" fill="#1a1a50" stroke="none" stroke-width="0" rx="0.5"/>
<text x="133.34" y="276.9" font-family="'Liberation Mono', monospace" font-size="10.8" font-weight="bold" fill="#111" text-anchor="middle" >K</text>
<rect x="147.05" y="215.60" width="4.17" height="50.60" fill="#f0f0f0" stroke="#333" stroke-width="0.6" />
<rect x="147.25" y="214.90" width="3.77" height="1.50" fill="#111" stroke="none" stroke-width="0" rx="0.5"/>
<rect x="151.82" y="209.02" width="4.17" height="57.18" fill="#a8a8a8" stroke="#444" stroke-width="0.6" />
<rect x="152.02" y="208.12" width="3.77" height="1.70" fill="#111" stroke="none" stroke-width="0" rx="0.7"/>
<rect x="156.59" y="193.34" width="4.17" height="72.86" fill="#4050dc" stroke="#2333b8" stroke-width="0.6" />
<rect x="156.79" y="192.64" width="3.77" height="1.40" fill="#1a1a50" stroke="none" stroke-width="0" rx="0.5"/>
<line x1="158.675" y1="193.33599999999998" x2="158.675" y2="187.26399999999998" stroke="#1a1a50" stroke-width="0.8" />
<line x1="157.57500000000002" y1="187.26399999999998" x2="159.775" y2="187.26399999999998" stroke="#1a1a50" stroke-width="0.8" />
<line x1="158.675" y1="193.33599999999998" x2="158.675" y2="199.40800000000002" stroke="#1a1a50" stroke-width="0.8" />
<line x1="157.57500000000002" y1="199.40800000000002" x2="159.775" y2="199.40800000000002" stroke="#1a1a50" stroke-width="0.8" />
<circle cx="158.68" cy="195.36" r="0.85" fill="#111"/>
<circle cx="158.68" cy="190.30" r="0.85" fill="#111"/>
<text x="153.8" y="276.9" font-family="'Liberation Mono', monospace" font-size="10.8" font-weight="bold" fill="#111" text-anchor="middle" >R</text>
<rect x="167.36" y="215.60" width="4.17" height="50.60" fill="#f0f0f0" stroke="#333" stroke-width="0.6" />
<rect x="167.56" y="214.90" width="3.77" height="1.50" fill="#111" stroke="none" stroke-width="0" rx="0.5"/>
<rect x="172.13" y="218.13" width="4.17" height="48.07" fill="#a8a8a8" stroke="#444" stroke-width="0.6" />
<rect x="172.33" y="217.23" width="3.77" height="1.70" fill="#111" stroke="none" stroke-width="0" rx="0.7"/>
<rect x="176.90" y="210.54" width="4.17" height="55.66" fill="#4050dc" stroke="#2333b8" stroke-width="0.6" />
<rect x="177.10" y="209.84" width="3.77" height="1.40" fill="#1a1a50" stroke="none" stroke-width="0" rx="0.5"/>
<line x1="178.985" y1="210.54" x2="178.985" y2="205.986" stroke="#1a1a50" stroke-width="0.8" />
<line x1="177.88500000000002" y1="205.986" x2="180.085" y2="205.986" stroke="#1a1a50" stroke-width="0.8" />
<line x1="178.985" y1="210.54" x2="178.985" y2="215.09399999999997" stroke="#1a1a50" stroke-width="0.8" />
<line x1="177.88500000000002" y1="215.09399999999997" x2="180.085" y2="215.09399999999997" stroke="#1a1a50" stroke-width="0.8" />
<text x="174.26" y="276.9" font-family="'Liberation Mono', monospace" font-size="10.8" font-weight="bold" fill="#111" text-anchor="middle" >H</text>
<rect x="187.67" y="215.60" width="4.17" height="50.60" fill="#f0f0f0" stroke="#333" stroke-width="0.6" />
<rect x="187.87" y="214.90" width="3.77" height="1.50" fill="#111" stroke="none" stroke-width="0" rx="0.5"/>
<rect x="192.44" y="219.65" width="4.17" height="46.55" fill="#a8a8a8" stroke="#444" stroke-width="0.6" />
<rect x="192.64" y="218.75" width="3.77" height="1.70" fill="#111" stroke="none" stroke-width="0" rx="0.7"/>
<rect x="197.21" y="225.72" width="4.17" height="40.48" fill="#4050dc" stroke="#2333b8" stroke-width="0.6" />
<rect x="197.41" y="225.02" width="3.77" height="1.40" fill="#1a1a50" stroke="none" stroke-width="0" rx="0.5"/>
<line x1="199.29500000000002" y1="225.71999999999997" x2="199.29500000000002" y2="222.684" stroke="#1a1a50" stroke-width="0.8" />
<line x1="198.19500000000002" y1="222.684" x2="200.395" y2="222.684" stroke="#1a1a50" stroke-width="0.8" />
<line x1="199.29500000000002" y1="225.71999999999997" x2="199.29500000000002" y2="228.75599999999997" stroke="#1a1a50" stroke-width="0.8" />
<line x1="198.19500000000002" y1="228.75599999999997" x2="200.395" y2="228.75599999999997" stroke="#1a1a50" stroke-width="0.8" />
<text x="194.72" y="276.9" font-family="'Liberation Mono', monospace" font-size="10.8" font-weight="bold" fill="#111" text-anchor="middle" >N</text>
<rect x="207.98" y="215.60" width="4.17" height="50.60" fill="#f0f0f0" stroke="#333" stroke-width="0.6" />
<rect x="208.18" y="214.90" width="3.77" height="1.50" fill="#111" stroke="none" stroke-width="0" rx="0.5"/>
<rect x="212.75" y="213.58" width="4.17" height="52.62" fill="#a8a8a8" stroke="#444" stroke-width="0.6" />
<rect x="212.95" y="212.68" width="3.77" height="1.70" fill="#111" stroke="none" stroke-width="0" rx="0.7"/>
<rect x="217.52" y="207.50" width="4.17" height="58.70" fill="#4050dc" stroke="#2333b8" stroke-width="0.6" />
<rect x="217.72" y="206.80" width="3.77" height="1.40" fill="#1a1a50" stroke="none" stroke-width="0" rx="0.5"/>
<line x1="219.60500000000002" y1="207.504" x2="219.60500000000002" y2="200.926" stroke="#1a1a50" stroke-width="0.8" />
<line x1="218.50500000000002" y1="200.926" x2="220.705" y2="200.926" stroke="#1a1a50" stroke-width="0.8" />
<line x1="219.60500000000002" y1="207.504" x2="219.60500000000002" y2="214.082" stroke="#1a1a50" stroke-width="0.8" />
<line x1="218.50500000000002" y1="214.082" x2="220.705" y2="214.082" stroke="#1a1a50" stroke-width="0.8" />
<circle cx="219.61" cy="205.48" r="0.85" fill="#111"/>
<text x="215.18" y="276.9" font-family="'Liberation Mono', monospace" font-size="10.8" font-weight="bold" fill="#111" text-anchor="middle" >Q</text>
<rect x="228.29" y="215.60" width="4.17" height="50.60" fill="#f0f0f0" stroke="#333" stroke-width="0.6" />
<rect x="228.49" y="214.90" width="3.77" height="1.50" fill="#111" stroke="none" stroke-width="0" rx="0.5"/>
<rect x="233.06" y="209.02" width="4.17" height="57.18" fill="#a8a8a8" stroke="#444" stroke-width="0.6" />
<rect x="233.26" y="208.12" width="3.77" height="1.70" fill="#111" stroke="none" stroke-width="0" rx="0.7"/>
<rect x="237.83" y="212.56" width="4.17" height="53.64" fill="#4050dc" stroke="#2333b8" stroke-width="0.6" />
<rect x="238.03" y="211.86" width="3.77" height="1.40" fill="#1a1a50" stroke="none" stroke-width="0" rx="0.5"/>
<line x1="239.91500000000002" y1="212.564" x2="239.91500000000002" y2="209.528" stroke="#1a1a50" stroke-width="0.8" />
<line x1="238.81500000000003" y1="209.528" x2="241.01500000000001" y2="209.528" stroke="#1a1a50" stroke-width="0.8" />
<line x1="239.91500000000002" y1="212.564" x2="239.91500000000002" y2="215.6" stroke="#1a1a50" stroke-width="0.8" />
<line x1="238.81500000000003" y1="215.6" x2="241.01500000000001" y2="215.6" stroke="#1a1a50" stroke-width="0.8" />
<text x="235.64000000000001" y="276.9" font-family="'Liberation Mono', monospace" font-size="10.8" font-weight="bold" fill="#111" text-anchor="middle" >S</text>
<rect x="248.60" y="215.60" width="4.17" height="50.60" fill="#f0f0f0" stroke="#333" stroke-width="0.6" />
<rect x="248.80" y="214.90" width="3.77" height="1.50" fill="#111" stroke="none" stroke-width="0" rx="0.5"/>
<rect x="253.37" y="207.00" width="4.17" height="59.20" fill="#a8a8a8" stroke="#444" stroke-width="0.6" />
<rect x="253.57" y="206.10" width="3.77" height="1.70" fill="#111" stroke="none" stroke-width="0" rx="0.7"/>
<line x1="255.455" y1="206.998" x2="255.455" y2="205.48" stroke="#111" stroke-width="0.8" />
<line x1="254.35500000000002" y1="205.48" x2="256.555" y2="205.48" stroke="#111" stroke-width="0.8" />
<line x1="255.455" y1="206.998" x2="255.455" y2="208.516" stroke="#111" stroke-width="0.8" />
<line x1="254.35500000000002" y1="208.516" x2="256.555" y2="208.516" stroke="#111" stroke-width="0.8" />
<rect x="258.14" y="198.90" width="4.17" height="67.30" fill="#4050dc" stroke="#2333b8" stroke-width="0.6" />
<rect x="258.34" y="198.20" width="3.77" height="1.40" fill="#1a1a50" stroke="none" stroke-width="0" rx="0.5"/>
<line x1="260.225" y1="198.902" x2="260.225" y2="194.34799999999998" stroke="#1a1a50" stroke-width="0.8" />
<line x1="259.125" y1="194.34799999999998" x2="261.32500000000005" y2="194.34799999999998" stroke="#1a1a50" stroke-width="0.8" />
<line x1="260.225" y1="198.902" x2="260.225" y2="203.45599999999996" stroke="#1a1a50" stroke-width="0.8" />
<line x1="259.125" y1="203.45599999999996" x2="261.32500000000005" y2="203.45599999999996" stroke="#1a1a50" stroke-width="0.8" />
<circle cx="260.23" cy="196.37" r="0.85" fill="#111"/>
<text x="256.1" y="276.9" font-family="'Liberation Mono', monospace" font-size="10.8" font-weight="bold" fill="#111" text-anchor="middle" >T</text>
<rect x="268.91" y="215.60" width="4.17" height="50.60" fill="#f0f0f0" stroke="#333" stroke-width="0.6" />
<rect x="269.11" y="214.90" width="3.77" height="1.50" fill="#111" stroke="none" stroke-width="0" rx="0.5"/>
<rect x="273.68" y="194.85" width="4.17" height="71.35" fill="#a8a8a8" stroke="#444" stroke-width="0.6" />
<rect x="273.88" y="193.95" width="3.77" height="1.70" fill="#111" stroke="none" stroke-width="0" rx="0.7"/>
<rect x="278.45" y="157.92" width="4.17" height="108.28" fill="#4050dc" stroke="#2333b8" stroke-width="0.6" />
<rect x="278.65" y="157.22" width="3.77" height="1.40" fill="#1a1a50" stroke="none" stroke-width="0" rx="0.5"/>
<line x1="280.535" y1="157.916" x2="280.535" y2="154.88" stroke="#1a1a50" stroke-width="0.8" />
<line x1="279.435" y1="154.88" x2="281.63500000000005" y2="154.88" stroke="#1a1a50" stroke-width="0.8" />
<line x1="280.535" y1="157.916" x2="280.535" y2="160.952" stroke="#1a1a50" stroke-width="0.8" />
<line x1="279.435" y1="160.952" x2="281.63500000000005" y2="160.952" stroke="#1a1a50" stroke-width="0.8" />
<circle cx="280.54" cy="159.94" r="0.85" fill="#111"/>
<text x="276.56" y="276.9" font-family="'Liberation Mono', monospace" font-size="10.8" font-weight="bold" fill="#111" text-anchor="middle" >C</text>
<rect x="289.22" y="215.60" width="4.17" height="50.60" fill="#f0f0f0" stroke="#333" stroke-width="0.6" />
<rect x="289.42" y="214.90" width="3.77" height="1.50" fill="#111" stroke="none" stroke-width="0" rx="0.5"/>
<rect x="293.99" y="213.58" width="4.17" height="52.62" fill="#a8a8a8" stroke="#444" stroke-width="0.6" />
<rect x="294.19" y="212.68" width="3.77" height="1.70" fill="#111" stroke="none" stroke-width="0" rx="0.7"/>
<rect x="298.76" y="191.82" width="4.17" height="74.38" fill="#4050dc" stroke="#2333b8" stroke-width="0.6" />
<rect x="298.96" y="191.12" width="3.77" height="1.40" fill="#1a1a50" stroke="none" stroke-width="0" rx="0.5"/>
<line x1="300.84499999999997" y1="191.81799999999998" x2="300.84499999999997" y2="182.70999999999998" stroke="#1a1a50" stroke-width="0.8" />
<line x1="299.74499999999995" y1="182.70999999999998" x2="301.945" y2="182.70999999999998" stroke="#1a1a50" stroke-width="0.8" />
<line x1="300.84499999999997" y1="191.81799999999998" x2="300.84499999999997" y2="200.926" stroke="#1a1a50" stroke-width="0.8" />
<line x1="299.74499999999995" y1="200.926" x2="301.945" y2="200.926" stroke="#1a1a50" stroke-width="0.8" />
<circle cx="300.84" cy="201.43" r="0.85" fill="#111"/>
<circle cx="300.84" cy="190.30" r="0.85" fill="#111"/>
<text x="297.02" y="276.9" font-family="'Liberation Mono', monospace" font-size="10.8" font-weight="bold" fill="#111" text-anchor="middle" >P</text>
<rect x="309.53" y="215.60" width="4.17" height="50.60" fill="#f0f0f0" stroke="#333" stroke-width="0.6" />
<rect x="309.73" y="214.90" width="3.77" height="1.50" fill="#111" stroke="none" stroke-width="0" rx="0.5"/>
<rect x="314.30" y="217.12" width="4.17" height="49.08" fill="#a8a8a8" stroke="#444" stroke-width="0.6" />
<rect x="314.50" y="216.22" width="3.77" height="1.70" fill="#111" stroke="none" stroke-width="0" rx="0.7"/>
<rect x="319.07" y="188.78" width="4.17" height="77.42" fill="#4050dc" stroke="#2333b8" stroke-width="0.6" />
<rect x="319.27" y="188.08" width="3.77" height="1.40" fill="#1a1a50" stroke="none" stroke-width="0" rx="0.5"/>
<text x="317.48" y="276.9" font-family="'Liberation Mono', monospace" font-size="10.8" font-weight="bold" fill="#111" text-anchor="middle" >V</text>
<rect x="329.84" y="215.60" width="4.17" height="50.60" fill="#f0f0f0" stroke="#333" stroke-width="0.6" />
<rect x="330.04" y="214.90" width="3.77" height="1.50" fill="#111" stroke="none" stroke-width="0" rx="0.5"/>
<rect x="334.61" y="217.12" width="4.17" height="49.08" fill="#a8a8a8" stroke="#444" stroke-width="0.6" />
<rect x="334.81" y="216.22" width="3.77" height="1.70" fill="#111" stroke="none" stroke-width="0" rx="0.7"/>
<rect x="339.38" y="198.40" width="4.17" height="67.80" fill="#4050dc" stroke="#2333b8" stroke-width="0.6" />
<rect x="339.58" y="197.70" width="3.77" height="1.40" fill="#1a1a50" stroke="none" stroke-width="0" rx="0.5"/>
<text x="337.94" y="276.9" font-family="'Liberation Mono', monospace" font-size="10.8" font-weight="bold" fill="#111" text-anchor="middle" >I</text>
<rect x="350.15" y="215.60" width="4.17" height="50.60" fill="#f0f0f0" stroke="#333" stroke-width="0.6" />
<rect x="350.35" y="214.90" width="3.77" height="1.50" fill="#111" stroke="none" stroke-width="0" rx="0.5"/>
<rect x="354.92" y="212.06" width="4.17" height="54.14" fill="#a8a8a8" stroke="#444" stroke-width="0.6" />
<rect x="355.12" y="211.16" width="3.77" height="1.70" fill="#111" stroke="none" stroke-width="0" rx="0.7"/>
<rect x="359.69" y="199.41" width="4.17" height="66.79" fill="#4050dc" stroke="#2333b8" stroke-width="0.6" />
<rect x="359.89" y="198.71" width="3.77" height="1.40" fill="#1a1a50" stroke="none" stroke-width="0" rx="0.5"/>
<line x1="361.775" y1="199.408" x2="361.775" y2="197.89" stroke="#1a1a50" stroke-width="0.8" />
<line x1="360.67499999999995" y1="197.89" x2="362.875" y2="197.89" stroke="#1a1a50" stroke-width="0.8" />
<line x1="361.775" y1="199.408" x2="361.775" y2="200.926" stroke="#1a1a50" stroke-width="0.8" />
<line x1="360.67499999999995" y1="200.926" x2="362.875" y2="200.926" stroke="#1a1a50" stroke-width="0.8" />
<text x="358.40000000000003" y="276.9" font-family="'Liberation Mono', monospace" font-size="10.8" font-weight="bold" fill="#111" text-anchor="middle" >L</text>
<rect x="370.46" y="215.60" width="4.17" height="50.60" fill="#f0f0f0" stroke="#333" stroke-width="0.6" />
<rect x="370.66" y="214.90" width="3.77" height="1.50" fill="#111" stroke="none" stroke-width="0" rx="0.5"/>
<rect x="375.23" y="215.09" width="4.17" height="51.11" fill="#a8a8a8" stroke="#444" stroke-width="0.6" />
<rect x="375.43" y="214.19" width="3.77" height="1.70" fill="#111" stroke="none" stroke-width="0" rx="0.7"/>
<rect x="380.00" y="193.34" width="4.17" height="72.86" fill="#4050dc" stroke="#2333b8" stroke-width="0.6" />
<rect x="380.20" y="192.64" width="3.77" height="1.40" fill="#1a1a50" stroke="none" stroke-width="0" rx="0.5"/>
<text x="378.86" y="276.9" font-family="'Liberation Mono', monospace" font-size="10.8" font-weight="bold" fill="#111" text-anchor="middle" >M</text>
<rect x="390.77" y="215.60" width="4.17" height="50.60" fill="#f0f0f0" stroke="#333" stroke-width="0.6" />
<rect x="390.97" y="214.90" width="3.77" height="1.50" fill="#111" stroke="none" stroke-width="0" rx="0.5"/>
<rect x="395.54" y="217.62" width="4.17" height="48.58" fill="#a8a8a8" stroke="#444" stroke-width="0.6" />
<rect x="395.74" y="216.72" width="3.77" height="1.70" fill="#111" stroke="none" stroke-width="0" rx="0.7"/>
<rect x="400.31" y="204.47" width="4.17" height="61.73" fill="#4050dc" stroke="#2333b8" stroke-width="0.6" />
<rect x="400.51" y="203.77" width="3.77" height="1.40" fill="#1a1a50" stroke="none" stroke-width="0" rx="0.5"/>
<line x1="402.395" y1="204.468" x2="402.395" y2="202.95" stroke="#1a1a50" stroke-width="0.8" />
<line x1="401.29499999999996" y1="202.95" x2="403.495" y2="202.95" stroke="#1a1a50" stroke-width="0.8" />
<line x1="402.395" y1="204.468" x2="402.395" y2="205.986" stroke="#1a1a50" stroke-width="0.8" />
<line x1="401.29499999999996" y1="205.986" x2="403.495" y2="205.986" stroke="#1a1a50" stroke-width="0.8" />
<text x="399.32" y="276.9" font-family="'Liberation Mono', monospace" font-size="10.8" font-weight="bold" fill="#111" text-anchor="middle" >F</text>
<rect x="411.08" y="215.60" width="4.17" height="50.60" fill="#f0f0f0" stroke="#333" stroke-width="0.6" />
<rect x="411.28" y="214.90" width="3.77" height="1.50" fill="#111" stroke="none" stroke-width="0" rx="0.5"/>
<rect x="415.85" y="218.64" width="4.17" height="47.56" fill="#a8a8a8" stroke="#444" stroke-width="0.6" />
<rect x="416.05" y="217.74" width="3.77" height="1.70" fill="#111" stroke="none" stroke-width="0" rx="0.7"/>
<rect x="420.62" y="199.91" width="4.17" height="66.29" fill="#4050dc" stroke="#2333b8" stroke-width="0.6" />
<rect x="420.82" y="199.21" width="3.77" height="1.40" fill="#1a1a50" stroke="none" stroke-width="0" rx="0.5"/>
<text x="419.78000000000003" y="276.9" font-family="'Liberation Mono', monospace" font-size="10.8" font-weight="bold" fill="#111" text-anchor="middle" >Y</text>
<rect x="431.39" y="215.60" width="4.17" height="50.60" fill="#f0f0f0" stroke="#333" stroke-width="0.6" />
<rect x="431.59" y="214.90" width="3.77" height="1.50" fill="#111" stroke="none" stroke-width="0" rx="0.5"/>
<rect x="436.16" y="214.08" width="4.17" height="52.12" fill="#a8a8a8" stroke="#444" stroke-width="0.6" />
<rect x="436.36" y="213.18" width="3.77" height="1.70" fill="#111" stroke="none" stroke-width="0" rx="0.7"/>
<rect x="440.93" y="205.48" width="4.17" height="60.72" fill="#4050dc" stroke="#2333b8" stroke-width="0.6" />
<rect x="441.13" y="204.78" width="3.77" height="1.40" fill="#1a1a50" stroke="none" stroke-width="0" rx="0.5"/>
<line x1="443.015" y1="205.48" x2="443.015" y2="203.962" stroke="#1a1a50" stroke-width="0.8" />
<line x1="441.91499999999996" y1="203.962" x2="444.115" y2="203.962" stroke="#1a1a50" stroke-width="0.8" />
<line x1="443.015" y1="205.48" x2="443.015" y2="206.998" stroke="#1a1a50" stroke-width="0.8" />
<line x1="441.91499999999996" y1="206.998" x2="444.115" y2="206.998" stroke="#1a1a50" stroke-width="0.8" />
<text x="440.24" y="276.9" font-family="'Liberation Mono', monospace" font-size="10.8" font-weight="bold" fill="#111" text-anchor="middle" >W</text>
<path d="M87.82,213.40 V199.6 H98.02 V213.40" fill="none" stroke="#666" stroke-width="0.9" />
<text x="92.91999999999999" y="197.5" font-family="'Liberation Mono', monospace" font-size="8.8" font-weight="bold" fill="#111" text-anchor="middle" >ns</text>
<path d="M108.13,213.40 V194.3 H118.33 V228.07" fill="none" stroke="#666" stroke-width="0.9" />
<path d="M110.43,192.85 L110.43,188.15 M108.39,191.68 L112.47,189.32 M112.47,191.68 L108.39,189.32 M116.03,192.85 L116.03,188.15 M113.99,191.68 L118.07,189.32 M118.07,191.68 L113.99,189.32" fill="none" stroke="#1a1a1a" stroke-width="1.05" stroke-linecap="butt"/>
<circle cx="110.43" cy="190.50" r="0.95" fill="#1a1a1a"/>
<circle cx="116.03" cy="190.50" r="0.95" fill="#1a1a1a"/>
<path d="M270.61,213.40 V149.9 H280.81 V152.68" fill="none" stroke="#666" stroke-width="0.9" />
<path d="M267.31,147.65 L267.31,142.95 M265.27,146.48 L269.35,144.12 M269.35,146.48 L265.27,144.12 M272.91,147.65 L272.91,142.95 M270.87,146.48 L274.95,144.12 M274.95,146.48 L270.87,144.12 M278.51,147.65 L278.51,142.95 M276.47,146.48 L280.55,144.12 M280.55,146.48 L276.47,144.12 M284.11,147.65 L284.11,142.95 M282.07,146.48 L286.15,144.12 M286.15,146.48 L282.07,144.12" fill="none" stroke="#1a1a1a" stroke-width="1.05" stroke-linecap="butt"/>
<circle cx="267.31" cy="145.30" r="0.95" fill="#1a1a1a"/>
<circle cx="272.91" cy="145.30" r="0.95" fill="#1a1a1a"/>
<circle cx="278.51" cy="145.30" r="0.95" fill="#1a1a1a"/>
<circle cx="284.11" cy="145.30" r="0.95" fill="#1a1a1a"/>
<path d="M290.92,213.40 V177.8 H301.12 V180.51" fill="none" stroke="#666" stroke-width="0.9" />
<path d="M296.02,176.05 L296.02,171.35 M293.98,174.88 L298.06,172.52 M298.06,174.88 L293.98,172.52" fill="none" stroke="#1a1a1a" stroke-width="1.05" stroke-linecap="butt"/>
<circle cx="296.02" cy="173.70" r="0.95" fill="#1a1a1a"/>
<path d="M311.23,213.40 V183.5 H321.43 V185.57" fill="none" stroke="#666" stroke-width="0.9" />
<path d="M307.93,181.85 L307.93,177.15 M305.89,180.68 L309.97,178.32 M309.97,180.68 L305.89,178.32 M313.53,181.85 L313.53,177.15 M311.49,180.68 L315.57,178.32 M315.57,180.68 L311.49,178.32 M319.13,181.85 L319.13,177.15 M317.09,180.68 L321.17,178.32 M321.17,180.68 L317.09,178.32 M324.73,181.85 L324.73,177.15 M322.69,180.68 L326.77,178.32 M326.77,180.68 L322.69,178.32" fill="none" stroke="#1a1a1a" stroke-width="1.05" stroke-linecap="butt"/>
<circle cx="307.93" cy="179.50" r="0.95" fill="#1a1a1a"/>
<circle cx="313.53" cy="179.50" r="0.95" fill="#1a1a1a"/>
<circle cx="319.13" cy="179.50" r="0.95" fill="#1a1a1a"/>
<circle cx="324.73" cy="179.50" r="0.95" fill="#1a1a1a"/>
<path d="M331.54,213.40 V193.4 H341.74 V195.18" fill="none" stroke="#666" stroke-width="0.9" />
<path d="M328.24,191.75 L328.24,187.05 M326.20,190.58 L330.28,188.22 M330.28,190.58 L326.20,188.22 M333.84,191.75 L333.84,187.05 M331.80,190.58 L335.88,188.22 M335.88,190.58 L331.80,188.22 M339.44,191.75 L339.44,187.05 M337.40,190.58 L341.48,188.22 M341.48,190.58 L337.40,188.22 M345.04,191.75 L345.04,187.05 M343.00,190.58 L347.08,188.22 M347.08,190.58 L343.00,188.22" fill="none" stroke="#1a1a1a" stroke-width="1.05" stroke-linecap="butt"/>
<circle cx="328.24" cy="189.40" r="0.95" fill="#1a1a1a"/>
<circle cx="333.84" cy="189.40" r="0.95" fill="#1a1a1a"/>
<circle cx="339.44" cy="189.40" r="0.95" fill="#1a1a1a"/>
<circle cx="345.04" cy="189.40" r="0.95" fill="#1a1a1a"/>
<path d="M351.85,213.40 V192.4 H362.05 V195.69" fill="none" stroke="#666" stroke-width="0.9" />
<path d="M351.35,190.95 L351.35,186.25 M349.31,189.78 L353.39,187.42 M353.39,189.78 L349.31,187.42 M356.95,190.95 L356.95,186.25 M354.91,189.78 L358.99,187.42 M358.99,189.78 L354.91,187.42 M362.55,190.95 L362.55,186.25 M360.51,189.78 L364.59,187.42 M364.59,189.78 L360.51,187.42" fill="none" stroke="#1a1a1a" stroke-width="1.05" stroke-linecap="butt"/>
<circle cx="351.35" cy="188.60" r="0.95" fill="#1a1a1a"/>
<circle cx="356.95" cy="188.60" r="0.95" fill="#1a1a1a"/>
<circle cx="362.55" cy="188.60" r="0.95" fill="#1a1a1a"/>
<path d="M372.16,213.40 V187.0 H382.36 V190.12" fill="none" stroke="#666" stroke-width="0.9" />
<path d="M368.86,185.65 L368.86,180.95 M366.82,184.48 L370.90,182.12 M370.90,184.48 L366.82,182.12 M374.46,185.65 L374.46,180.95 M372.42,184.48 L376.50,182.12 M376.50,184.48 L372.42,182.12 M380.06,185.65 L380.06,180.95 M378.02,184.48 L382.10,182.12 M382.10,184.48 L378.02,182.12 M385.66,185.65 L385.66,180.95 M383.62,184.48 L387.70,182.12 M387.70,184.48 L383.62,182.12" fill="none" stroke="#1a1a1a" stroke-width="1.05" stroke-linecap="butt"/>
<circle cx="368.86" cy="183.30" r="0.95" fill="#1a1a1a"/>
<circle cx="374.46" cy="183.30" r="0.95" fill="#1a1a1a"/>
<circle cx="380.06" cy="183.30" r="0.95" fill="#1a1a1a"/>
<circle cx="385.66" cy="183.30" r="0.95" fill="#1a1a1a"/>
<path d="M392.47,213.40 V197.6 H402.67 V200.75" fill="none" stroke="#666" stroke-width="0.9" />
<path d="M391.97,196.15 L391.97,191.45 M389.93,194.98 L394.01,192.62 M394.01,194.98 L389.93,192.62 M397.57,196.15 L397.57,191.45 M395.53,194.98 L399.61,192.62 M399.61,194.98 L395.53,192.62 M403.17,196.15 L403.17,191.45 M401.13,194.98 L405.21,192.62 M405.21,194.98 L401.13,192.62" fill="none" stroke="#1a1a1a" stroke-width="1.05" stroke-linecap="butt"/>
<circle cx="391.97" cy="193.80" r="0.95" fill="#1a1a1a"/>
<circle cx="397.57" cy="193.80" r="0.95" fill="#1a1a1a"/>
<circle cx="403.17" cy="193.80" r="0.95" fill="#1a1a1a"/>
<path d="M412.78,213.40 V191.8 H422.98 V196.70" fill="none" stroke="#666" stroke-width="0.9" />
<path d="M409.48,190.65 L409.48,185.95 M407.44,189.48 L411.52,187.12 M411.52,189.48 L407.44,187.12 M415.08,190.65 L415.08,185.95 M413.04,189.48 L417.12,187.12 M417.12,189.48 L413.04,187.12 M420.68,190.65 L420.68,185.95 M418.64,189.48 L422.72,187.12 M422.72,189.48 L418.64,187.12 M426.28,190.65 L426.28,185.95 M424.24,189.48 L428.32,187.12 M428.32,189.48 L424.24,187.12" fill="none" stroke="#1a1a1a" stroke-width="1.05" stroke-linecap="butt"/>
<circle cx="409.48" cy="188.30" r="0.95" fill="#1a1a1a"/>
<circle cx="415.08" cy="188.30" r="0.95" fill="#1a1a1a"/>
<circle cx="420.68" cy="188.30" r="0.95" fill="#1a1a1a"/>
<circle cx="426.28" cy="188.30" r="0.95" fill="#1a1a1a"/>
<path d="M433.09,213.40 V198.8 H443.29 V201.76" fill="none" stroke="#666" stroke-width="0.9" />
<path d="M432.59,197.25 L432.59,192.55 M430.55,196.08 L434.63,193.72 M434.63,196.08 L430.55,193.72 M438.19,197.25 L438.19,192.55 M436.15,196.08 L440.23,193.72 M440.23,196.08 L436.15,193.72 M443.79,197.25 L443.79,192.55 M441.75,196.08 L445.83,193.72 M445.83,196.08 L441.75,193.72" fill="none" stroke="#1a1a1a" stroke-width="1.05" stroke-linecap="butt"/>
<circle cx="432.59" cy="194.90" r="0.95" fill="#1a1a1a"/>
<circle cx="438.19" cy="194.90" r="0.95" fill="#1a1a1a"/>
<circle cx="443.79" cy="194.90" r="0.95" fill="#1a1a1a"/>
<line x1="46.6" y1="279.1" x2="76.2" y2="279.1" stroke="#444" stroke-width="1.2" />
<line x1="87.0" y1="279.1" x2="117.4" y2="279.1" stroke="#444" stroke-width="1.2" />
<line x1="128.2" y1="279.1" x2="178.2" y2="279.1" stroke="#444" stroke-width="1.2" />
<line x1="189.5" y1="279.1" x2="259.0" y2="279.1" stroke="#444" stroke-width="1.2" />
<line x1="269.9" y1="279.1" x2="299.7" y2="279.1" stroke="#444" stroke-width="1.2" />
<line x1="311.3" y1="279.1" x2="448.0" y2="279.1" stroke="#444" stroke-width="1.2" />
<text transform="translate(48.8,300.7) rotate(-31)" font-family="'Liberation Sans', sans-serif" font-size="9.2" font-weight="bold" stroke="#000" stroke-width="0.25">Small</text>
<text transform="translate(88.9,302.6) rotate(-31)" font-family="'Liberation Sans', sans-serif" font-size="9.2" font-weight="bold" stroke="#000" stroke-width="0.25">Acidic</text>
<text transform="translate(269.6,301.8) rotate(-28)" font-family="'Liberation Sans', sans-serif" font-size="9.2" font-weight="bold" stroke="#000" stroke-width="0.25">Special</text>
<text x="141.5" y="289.0" font-family="'Liberation Sans', sans-serif" font-size="9.5" font-weight="bold" fill="#000" text-anchor="start" textLength="25.5" lengthAdjust="spacingAndGlyphs" stroke="#000" stroke-width="0.25">Basic</text>
<text x="213.0" y="289.0" font-family="'Liberation Sans', sans-serif" font-size="9.5" font-weight="bold" fill="#000" text-anchor="start" textLength="23.5" lengthAdjust="spacingAndGlyphs" stroke="#000" stroke-width="0.25">Polar</text>
<text x="350.8" y="289.0" font-family="'Liberation Sans', sans-serif" font-size="9.5" font-weight="bold" fill="#000" text-anchor="start" textLength="58.8" lengthAdjust="spacingAndGlyphs" stroke="#000" stroke-width="0.25">Hydrophobic</text>
</svg>
</body></html>
